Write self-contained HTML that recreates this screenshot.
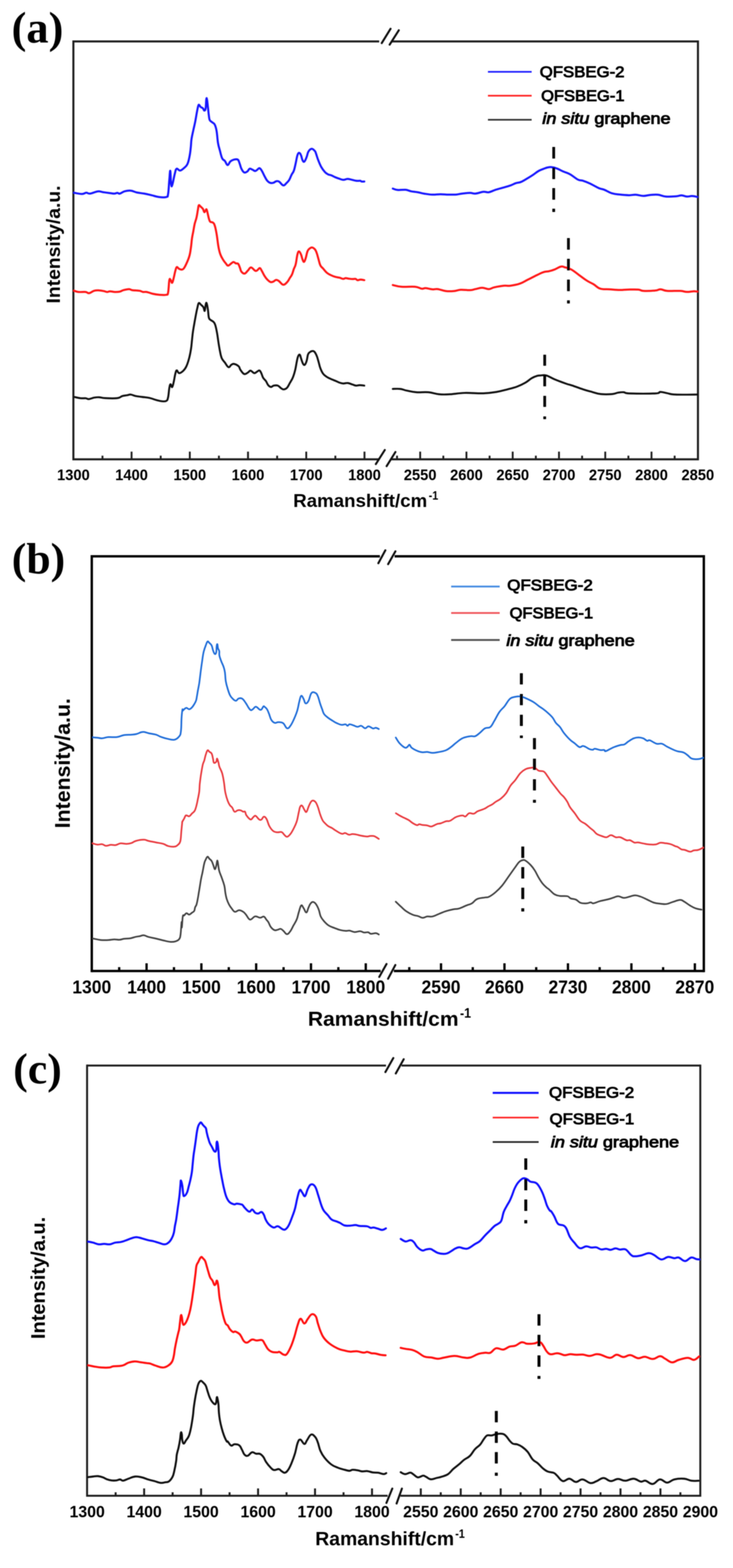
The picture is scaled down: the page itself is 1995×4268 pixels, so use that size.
<!DOCTYPE html>
<html><head><meta charset="utf-8"><title>Raman spectra</title>
<style>html,body{margin:0;padding:0;background:#fff;} svg{display:block;} text{fill:#000;}</style>
</head><body>
<svg width="1995" height="4268" viewBox="0 0 1995 4268">
<defs><filter id="soft" x="0" y="0" width="100%" height="100%" filterUnits="userSpaceOnUse"><feGaussianBlur stdDeviation="0.9"/></filter></defs><rect width="100%" height="100%" fill="#fff"/><g filter="url(#soft)"><text x="31.5" y="115.5" font-family="'Liberation Serif', 'Times New Roman', serif" font-size="121" font-weight="bold" text-anchor="start" >(a)</text>
<line x1="199.7" y1="110.0" x2="199.7" y2="1253.0" stroke="#1c1c1c" stroke-width="5.5" stroke-linecap="butt"/>
<line x1="1899.6" y1="110.0" x2="1899.6" y2="1253.0" stroke="#1c1c1c" stroke-width="5.5" stroke-linecap="butt"/>
<line x1="199.7" y1="112.8" x2="1032.0" y2="112.8" stroke="#1c1c1c" stroke-width="5.5" stroke-linecap="butt"/>
<line x1="1066.0" y1="112.8" x2="1899.6" y2="112.8" stroke="#1c1c1c" stroke-width="5.5" stroke-linecap="butt"/>
<line x1="199.7" y1="1250.3" x2="1030.0" y2="1250.3" stroke="#1c1c1c" stroke-width="5.5" stroke-linecap="butt"/>
<line x1="1065.8" y1="1250.3" x2="1899.6" y2="1250.3" stroke="#1c1c1c" stroke-width="5.5" stroke-linecap="butt"/>
<line x1="1039.0" y1="117.3" x2="1063.0" y2="78.3" stroke="#111" stroke-width="5.5" stroke-linecap="round"/>
<line x1="1060.5" y1="121.5" x2="1085.4" y2="82.4" stroke="#111" stroke-width="5.5" stroke-linecap="round"/>
<line x1="1022.9" y1="1263.3" x2="1047.3" y2="1224.9" stroke="#111" stroke-width="5.5" stroke-linecap="round"/>
<line x1="1052.3" y1="1268.8" x2="1076.2" y2="1230.4" stroke="#111" stroke-width="5.5" stroke-linecap="round"/>
<line x1="278.9" y1="1250.3" x2="278.9" y2="1240.3" stroke="#1c1c1c" stroke-width="5" stroke-linecap="butt"/>
<line x1="358.1" y1="1250.3" x2="358.1" y2="1229.3" stroke="#1c1c1c" stroke-width="5" stroke-linecap="butt"/>
<line x1="437.4" y1="1250.3" x2="437.4" y2="1240.3" stroke="#1c1c1c" stroke-width="5" stroke-linecap="butt"/>
<line x1="516.6" y1="1250.3" x2="516.6" y2="1229.3" stroke="#1c1c1c" stroke-width="5" stroke-linecap="butt"/>
<line x1="595.8" y1="1250.3" x2="595.8" y2="1240.3" stroke="#1c1c1c" stroke-width="5" stroke-linecap="butt"/>
<line x1="675.0" y1="1250.3" x2="675.0" y2="1229.3" stroke="#1c1c1c" stroke-width="5" stroke-linecap="butt"/>
<line x1="754.3" y1="1250.3" x2="754.3" y2="1240.3" stroke="#1c1c1c" stroke-width="5" stroke-linecap="butt"/>
<line x1="833.5" y1="1250.3" x2="833.5" y2="1229.3" stroke="#1c1c1c" stroke-width="5" stroke-linecap="butt"/>
<line x1="912.7" y1="1250.3" x2="912.7" y2="1240.3" stroke="#1c1c1c" stroke-width="5" stroke-linecap="butt"/>
<line x1="992.0" y1="1250.3" x2="992.0" y2="1229.3" stroke="#1c1c1c" stroke-width="5" stroke-linecap="butt"/>
<line x1="1080.6" y1="1250.3" x2="1080.6" y2="1240.3" stroke="#1c1c1c" stroke-width="5" stroke-linecap="butt"/>
<line x1="1143.6" y1="1250.3" x2="1143.6" y2="1229.3" stroke="#1c1c1c" stroke-width="5" stroke-linecap="butt"/>
<line x1="1206.6" y1="1250.3" x2="1206.6" y2="1240.3" stroke="#1c1c1c" stroke-width="5" stroke-linecap="butt"/>
<line x1="1269.5" y1="1250.3" x2="1269.5" y2="1229.3" stroke="#1c1c1c" stroke-width="5" stroke-linecap="butt"/>
<line x1="1332.5" y1="1250.3" x2="1332.5" y2="1240.3" stroke="#1c1c1c" stroke-width="5" stroke-linecap="butt"/>
<line x1="1395.4" y1="1250.3" x2="1395.4" y2="1229.3" stroke="#1c1c1c" stroke-width="5" stroke-linecap="butt"/>
<line x1="1458.4" y1="1250.3" x2="1458.4" y2="1240.3" stroke="#1c1c1c" stroke-width="5" stroke-linecap="butt"/>
<line x1="1521.4" y1="1250.3" x2="1521.4" y2="1229.3" stroke="#1c1c1c" stroke-width="5" stroke-linecap="butt"/>
<line x1="1584.3" y1="1250.3" x2="1584.3" y2="1240.3" stroke="#1c1c1c" stroke-width="5" stroke-linecap="butt"/>
<line x1="1647.3" y1="1250.3" x2="1647.3" y2="1229.3" stroke="#1c1c1c" stroke-width="5" stroke-linecap="butt"/>
<line x1="1710.3" y1="1250.3" x2="1710.3" y2="1240.3" stroke="#1c1c1c" stroke-width="5" stroke-linecap="butt"/>
<line x1="1773.2" y1="1250.3" x2="1773.2" y2="1229.3" stroke="#1c1c1c" stroke-width="5" stroke-linecap="butt"/>
<line x1="1836.2" y1="1250.3" x2="1836.2" y2="1240.3" stroke="#1c1c1c" stroke-width="5" stroke-linecap="butt"/>
<text x="199.7" y="1306.5" font-family="'Liberation Sans', Arial, sans-serif" font-size="42" font-weight="bold" text-anchor="middle" textLength="89.0" lengthAdjust="spacingAndGlyphs" >1300</text>
<text x="358.1" y="1306.5" font-family="'Liberation Sans', Arial, sans-serif" font-size="42" font-weight="bold" text-anchor="middle" textLength="89.0" lengthAdjust="spacingAndGlyphs" >1400</text>
<text x="516.6" y="1306.5" font-family="'Liberation Sans', Arial, sans-serif" font-size="42" font-weight="bold" text-anchor="middle" textLength="89.0" lengthAdjust="spacingAndGlyphs" >1500</text>
<text x="675.0" y="1306.5" font-family="'Liberation Sans', Arial, sans-serif" font-size="42" font-weight="bold" text-anchor="middle" textLength="89.0" lengthAdjust="spacingAndGlyphs" >1600</text>
<text x="833.5" y="1306.5" font-family="'Liberation Sans', Arial, sans-serif" font-size="42" font-weight="bold" text-anchor="middle" textLength="89.0" lengthAdjust="spacingAndGlyphs" >1700</text>
<text x="992.0" y="1306.5" font-family="'Liberation Sans', Arial, sans-serif" font-size="42" font-weight="bold" text-anchor="middle" textLength="89.0" lengthAdjust="spacingAndGlyphs" >1800</text>
<text x="1143.6" y="1306.5" font-family="'Liberation Sans', Arial, sans-serif" font-size="42" font-weight="bold" text-anchor="middle" textLength="89.0" lengthAdjust="spacingAndGlyphs" >2550</text>
<text x="1269.5" y="1306.5" font-family="'Liberation Sans', Arial, sans-serif" font-size="42" font-weight="bold" text-anchor="middle" textLength="89.0" lengthAdjust="spacingAndGlyphs" >2600</text>
<text x="1395.5" y="1306.5" font-family="'Liberation Sans', Arial, sans-serif" font-size="42" font-weight="bold" text-anchor="middle" textLength="89.0" lengthAdjust="spacingAndGlyphs" >2650</text>
<text x="1521.4" y="1306.5" font-family="'Liberation Sans', Arial, sans-serif" font-size="42" font-weight="bold" text-anchor="middle" textLength="89.0" lengthAdjust="spacingAndGlyphs" >2700</text>
<text x="1647.3" y="1306.5" font-family="'Liberation Sans', Arial, sans-serif" font-size="42" font-weight="bold" text-anchor="middle" textLength="89.0" lengthAdjust="spacingAndGlyphs" >2750</text>
<text x="1773.2" y="1306.5" font-family="'Liberation Sans', Arial, sans-serif" font-size="42" font-weight="bold" text-anchor="middle" textLength="89.0" lengthAdjust="spacingAndGlyphs" >2800</text>
<text x="1899.2" y="1306.5" font-family="'Liberation Sans', Arial, sans-serif" font-size="42" font-weight="bold" text-anchor="middle" textLength="89.0" lengthAdjust="spacingAndGlyphs" >2850</text>
<text x="0" y="0" transform="translate(163.0,826.0) rotate(-90)" font-family="'Liberation Sans', Arial, sans-serif" font-size="52" font-weight="bold" text-anchor="start" textLength="321.0" lengthAdjust="spacingAndGlyphs">Intensity/a.u.</text>
<text x="798.0" y="1379.7" font-family="'Liberation Sans', Arial, sans-serif" font-size="50" font-weight="bold" text-anchor="start" textLength="364.7" lengthAdjust="spacingAndGlyphs" >Ramanshift/cm</text>
<text x="1166.7" y="1359.8" font-family="'Liberation Sans', Arial, sans-serif" font-size="33" font-weight="bold" text-anchor="start" textLength="26.0" lengthAdjust="spacingAndGlyphs" >-1</text>
<line x1="1328.0" y1="195.6" x2="1447.0" y2="195.6" stroke="#1a1aff" stroke-width="4.5" stroke-linecap="butt"/>
<line x1="1328.0" y1="260.6" x2="1447.0" y2="260.6" stroke="#ff2020" stroke-width="4.5" stroke-linecap="butt"/>
<line x1="1328.0" y1="326.0" x2="1447.0" y2="326.0" stroke="#333333" stroke-width="4.5" stroke-linecap="butt"/>
<text x="1469.0" y="209.5" font-family="'Liberation Sans', Arial, sans-serif" font-size="43" font-weight="normal" text-anchor="start" textLength="230.7" lengthAdjust="spacingAndGlyphs" stroke="#000" stroke-width="2.1">QFSBEG-2</text>
<text x="1472.7" y="274.8" font-family="'Liberation Sans', Arial, sans-serif" font-size="43" font-weight="normal" text-anchor="start" textLength="227.0" lengthAdjust="spacingAndGlyphs" stroke="#000" stroke-width="2.1">QFSBEG-1</text>
<text x="1476.0" y="336.5" font-family="'Liberation Sans', Arial, sans-serif" font-size="43" text-anchor="start" textLength="349.0" lengthAdjust="spacingAndGlyphs" stroke="#000" stroke-width="2.1"><tspan font-style="italic">in situ</tspan> graphene</text>
<path d="M201.7,524.7 C206.0,525.4 216.3,528.0 223.0,528.0 C229.7,528.0 230.6,524.7 235.0,524.5 C239.4,524.3 238.7,527.7 245.0,527.0 C251.3,526.3 259.4,521.8 266.4,521.0 C273.4,520.2 273.3,522.1 280.0,523.0 C286.7,523.9 293.8,524.9 300.0,525.7 C306.2,526.5 307.1,527.1 311.0,527.0 C314.9,526.9 316.6,525.0 319.6,525.0 C322.6,525.0 322.0,527.9 326.0,527.0 C330.0,526.1 333.5,522.3 339.5,520.7 C345.5,519.1 349.3,518.3 356.0,519.0 C362.7,519.7 365.5,522.4 372.8,524.0 C380.1,525.6 384.7,525.5 392.7,527.0 C400.7,528.5 404.6,529.5 412.6,531.4 C420.6,533.3 424.6,535.3 432.6,536.3 C440.6,537.3 447.5,538.0 452.5,536.3 C457.5,534.6 455.8,537.3 457.5,528.0 C459.2,518.7 459.6,502.4 460.8,489.8 C462.0,477.2 462.5,462.7 463.5,465.0 C464.5,467.3 464.7,493.9 465.8,501.5 C466.9,509.1 467.0,508.7 469.0,503.0 C471.0,497.3 473.4,481.7 475.7,473.0 C478.0,464.3 477.8,461.0 480.7,459.3 C483.6,457.6 486.1,464.6 490.0,464.3 C493.9,464.0 496.0,461.5 500.0,458.0 C504.0,454.5 506.8,453.6 510.0,446.9 C513.2,440.2 514.2,433.9 516.1,424.4 C518.0,414.9 518.4,408.5 519.4,399.5 C520.4,390.5 519.8,388.6 521.1,379.6 C522.4,370.6 524.1,364.2 526.1,354.7 C528.1,345.2 529.1,342.2 531.1,332.2 C533.1,322.2 534.3,313.8 536.0,304.8 C537.7,295.8 538.5,291.2 539.8,287.4 C541.1,283.6 541.1,285.3 542.3,286.0 C543.5,286.7 544.0,289.2 546.0,291.0 C548.0,292.8 550.3,292.9 552.3,294.9 C554.3,296.9 554.5,301.0 556.0,301.0 C557.5,301.0 558.6,301.1 559.7,294.9 C560.8,288.7 560.7,274.7 561.5,270.0 C562.3,265.3 562.6,266.7 563.5,271.2 C564.4,275.7 565.0,283.7 566.0,292.4 C567.0,301.1 567.5,307.8 568.5,314.8 C569.5,321.8 569.0,323.5 571.0,327.2 C573.0,330.9 575.7,331.0 578.4,333.5 C581.1,336.0 582.5,335.0 584.7,339.7 C586.9,344.4 587.9,347.1 589.6,357.1 C591.3,367.1 591.6,379.0 593.4,389.5 C595.2,400.0 596.2,401.3 598.4,409.5 C600.6,417.7 601.9,425.0 604.6,430.7 C607.3,436.4 609.0,434.4 612.0,438.1 C615.0,441.8 616.5,449.0 619.5,449.3 C622.5,449.6 623.5,442.4 627.0,439.4 C630.5,436.4 633.0,435.4 637.0,434.4 C641.0,433.4 644.0,432.4 647.0,434.4 C650.0,436.4 650.0,439.4 652.0,444.4 C654.0,449.4 654.5,454.3 657.0,459.3 C659.5,464.3 661.2,467.8 664.4,469.3 C667.6,470.8 670.1,468.8 673.1,466.8 C676.1,464.8 676.6,460.3 679.3,459.3 C682.0,458.3 683.8,460.6 686.8,461.8 C689.8,463.0 691.7,465.4 694.3,465.5 C696.9,465.6 697.6,463.8 700.0,462.2 C702.4,460.6 703.7,457.2 706.2,457.7 C708.7,458.2 709.7,460.3 712.5,464.7 C715.3,469.1 717.0,474.1 720.0,479.6 C723.0,485.1 724.4,488.5 727.4,492.1 C730.4,495.7 731.7,496.5 734.9,497.6 C738.1,498.7 740.1,498.5 743.6,497.6 C747.1,496.7 749.1,493.9 752.3,493.3 C755.5,492.7 756.1,492.3 759.8,494.6 C763.5,496.9 767.0,503.9 771.0,504.6 C775.0,505.3 776.5,501.3 779.7,498.3 C782.9,495.3 784.5,494.1 787.2,489.6 C789.9,485.1 790.9,480.9 793.4,475.9 C795.9,470.9 797.4,470.9 799.7,464.7 C802.0,458.5 802.7,453.3 804.7,444.8 C806.7,436.3 807.6,428.0 809.6,422.3 C811.6,416.6 812.6,415.8 814.6,416.1 C816.6,416.4 817.9,419.6 819.6,423.6 C821.3,427.6 821.6,432.8 823.3,436.0 C825.0,439.2 826.0,441.5 828.3,439.8 C830.6,438.1 832.4,432.8 834.6,427.3 C836.8,421.8 836.8,416.9 839.5,412.4 C842.2,407.9 844.8,405.2 848.3,404.9 C851.8,404.6 854.5,408.1 857.0,411.1 C859.5,414.1 859.0,415.1 860.7,419.8 C862.4,424.5 863.0,427.8 865.7,434.8 C868.4,441.8 870.7,448.0 874.4,454.7 C878.1,461.4 880.7,464.4 884.4,468.4 C888.1,472.4 889.6,472.9 893.1,474.7 C896.6,476.5 898.1,475.7 901.8,477.2 C905.5,478.7 907.8,480.4 911.8,482.1 C915.8,483.8 917.3,484.4 921.8,485.9 C926.3,487.4 929.5,489.4 934.2,489.6 C938.9,489.8 941.0,487.2 945.5,487.1 C950.0,487.0 952.0,488.1 956.7,489.1 C961.4,490.1 964.4,491.5 969.1,492.1 C973.8,492.7 977.3,491.7 980.3,492.1 C983.3,492.5 981.8,493.7 984.0,494.1 C986.2,494.5 990.0,494.1 991.5,494.1" fill="none" stroke="#1212ff" stroke-width="5.5" stroke-linejoin="round" stroke-linecap="round"/>
<path d="M1069.1,513.3 C1071.7,514.0 1074.9,516.3 1081.9,517.0 C1088.9,517.7 1096.6,515.9 1103.9,516.6 C1111.2,517.3 1111.9,519.3 1118.5,520.6 C1125.1,521.9 1129.5,521.9 1136.8,523.2 C1144.1,524.5 1147.0,525.9 1155.0,527.2 C1163.0,528.5 1168.2,529.5 1177.0,529.8 C1185.8,530.1 1190.1,528.7 1198.9,528.7 C1207.7,528.7 1212.0,529.7 1220.8,529.8 C1229.6,529.9 1235.4,530.0 1242.7,529.4 C1250.0,528.8 1250.1,527.8 1257.4,526.9 C1264.7,526.0 1272.0,525.0 1279.3,525.0 C1286.6,525.0 1286.6,527.5 1293.9,526.9 C1301.2,526.3 1308.5,522.8 1315.8,522.1 C1323.1,521.4 1323.9,524.3 1330.5,523.2 C1337.1,522.1 1340.7,519.2 1348.7,516.6 C1356.7,514.0 1362.6,512.7 1370.7,510.4 C1378.8,508.1 1382.4,507.2 1389.0,504.9 C1395.6,502.6 1397.8,500.7 1403.6,498.7 C1409.4,496.7 1411.6,497.9 1418.2,495.1 C1424.8,492.3 1429.9,488.7 1436.5,484.8 C1443.1,480.9 1445.3,479.6 1451.1,475.7 C1456.9,471.8 1459.9,468.8 1465.7,465.5 C1471.5,462.2 1475.3,461.2 1480.3,459.2 C1485.3,457.2 1486.5,456.5 1490.7,455.7 C1494.9,454.9 1496.4,454.4 1501.4,455.0 C1506.4,455.6 1509.3,456.2 1515.7,458.6 C1522.1,461.0 1526.5,464.0 1533.6,467.1 C1540.7,470.2 1543.5,469.9 1551.4,474.3 C1559.3,478.7 1565.8,485.3 1572.9,488.9 C1580.0,492.5 1580.7,490.0 1587.1,492.1 C1593.5,494.2 1596.4,495.3 1605.0,499.3 C1613.6,503.3 1622.1,508.7 1630.0,512.1 C1637.9,515.5 1637.2,513.6 1644.3,516.4 C1651.4,519.2 1657.1,523.5 1665.7,526.1 C1674.3,528.7 1677.8,528.5 1687.1,529.6 C1696.4,530.7 1703.5,531.3 1712.1,531.4 C1720.7,531.5 1722.1,529.6 1730.0,530.0 C1737.9,530.4 1743.5,533.1 1751.4,533.2 C1759.3,533.3 1761.4,531.3 1769.3,530.7 C1777.2,530.1 1782.1,529.1 1790.7,530.0 C1799.3,530.9 1802.1,534.1 1812.1,535.0 C1822.1,535.9 1832.1,534.9 1840.7,534.3 C1849.3,533.7 1849.3,531.7 1855.0,531.8 C1860.7,531.9 1863.6,534.6 1869.3,535.0 C1875.0,535.4 1877.9,533.4 1883.6,533.6 C1889.3,533.8 1895.0,535.6 1897.9,536.1" fill="none" stroke="#1212ff" stroke-width="5.5" stroke-linejoin="round" stroke-linecap="round"/>
<path d="M201.7,791.4 C204.0,792.1 207.0,794.0 213.3,794.7 C219.6,795.4 227.4,794.0 233.2,794.7 C239.0,795.4 237.8,798.7 242.5,798.0 C247.2,797.3 251.0,792.9 256.5,791.4 C262.0,789.9 264.5,790.2 269.8,790.4 C275.1,790.6 278.7,791.5 283.0,792.4 C287.3,793.3 288.1,794.6 291.4,794.7 C294.7,794.8 295.4,793.0 299.7,793.0 C304.0,793.0 307.7,794.6 313.0,794.7 C318.3,794.8 321.6,794.7 326.2,793.7 C330.8,792.7 331.2,791.0 336.2,789.7 C341.2,788.4 346.5,787.0 351.2,787.0 C355.9,787.0 353.9,788.8 359.5,789.7 C365.1,790.6 373.4,790.4 379.4,791.4 C385.4,792.4 385.4,794.0 389.4,794.7 C393.4,795.4 394.0,793.7 399.3,794.7 C404.6,795.7 409.3,798.2 416.0,799.7 C422.7,801.2 425.3,801.8 432.6,802.3 C439.9,802.8 447.5,803.5 452.5,802.3 C457.5,801.1 455.8,804.1 457.5,796.3 C459.2,788.5 459.5,770.1 460.8,763.1 C462.1,756.1 462.6,760.2 464.1,761.5 C465.6,762.8 466.7,770.5 468.4,769.8 C470.1,769.1 470.6,764.8 472.4,758.1 C474.2,751.4 475.6,742.7 477.4,736.5 C479.2,730.3 479.2,727.8 481.2,726.9 C483.2,726.0 484.7,730.4 487.5,731.8 C490.3,733.2 492.3,734.3 495.0,733.8 C497.7,733.3 498.2,733.7 501.2,729.3 C504.2,724.9 506.9,718.9 509.9,711.9 C512.9,704.9 514.1,702.5 516.1,694.5 C518.1,686.5 518.6,681.0 519.9,672.0 C521.2,663.0 521.2,658.1 522.4,649.6 C523.6,641.1 524.6,637.7 526.1,629.7 C527.6,621.7 528.1,617.2 529.8,609.7 C531.5,602.2 533.0,600.0 534.8,592.3 C536.6,584.6 537.3,577.8 538.6,571.1 C539.9,564.4 539.6,560.4 541.1,558.7 C542.6,557.0 543.8,560.4 546.0,562.4 C548.2,564.4 550.3,565.6 552.3,568.6 C554.3,571.6 554.5,576.5 556.0,577.3 C557.5,578.1 558.5,573.9 559.7,572.4 C560.9,570.9 561.2,568.7 562.2,569.9 C563.2,571.1 563.4,573.6 564.7,578.6 C566.0,583.6 567.0,589.8 568.5,594.8 C570.0,599.8 570.0,601.3 572.2,603.5 C574.4,605.7 577.2,603.8 579.7,606.0 C582.2,608.2 582.7,608.5 584.7,614.7 C586.7,620.9 587.6,625.7 589.6,637.2 C591.6,648.7 592.6,661.0 594.6,672.0 C596.6,683.0 597.1,685.0 599.6,692.0 C602.1,699.0 604.1,701.9 607.1,706.9 C610.1,711.9 611.9,713.7 614.6,716.9 C617.3,720.1 617.8,723.1 620.8,723.1 C623.8,723.1 626.5,718.9 629.5,716.9 C632.5,714.9 633.2,713.2 635.7,713.2 C638.2,713.2 639.5,715.9 642.0,716.9 C644.5,717.9 646.0,715.6 648.2,718.1 C650.4,720.6 651.5,725.1 653.2,729.3 C654.9,733.5 654.4,736.2 656.9,739.3 C659.4,742.4 662.1,745.3 665.6,744.8 C669.1,744.3 670.9,740.1 674.4,736.8 C677.9,733.5 679.1,728.1 683.1,728.1 C687.1,728.1 690.9,735.2 694.3,736.8 C697.7,738.4 697.5,737.3 700.0,735.9 C702.5,734.5 704.5,729.4 707.0,729.7 C709.5,730.0 709.9,733.0 712.5,737.2 C715.1,741.4 716.9,746.2 719.9,750.9 C722.9,755.6 724.2,757.6 727.4,760.9 C730.6,764.2 732.9,766.5 736.1,767.6 C739.3,768.7 740.6,767.7 743.6,766.6 C746.6,765.5 748.1,762.5 751.1,762.1 C754.1,761.7 754.6,762.0 758.6,764.6 C762.6,767.2 766.3,774.6 771.0,775.1 C775.7,775.6 778.7,770.7 782.2,767.1 C785.7,763.5 786.0,761.1 788.5,757.1 C791.0,753.1 792.5,752.2 794.7,747.2 C796.9,742.2 797.7,737.7 799.7,732.2 C801.7,726.7 802.7,727.7 804.7,719.7 C806.7,711.7 807.7,699.4 809.6,692.3 C811.5,685.2 812.1,684.1 814.1,684.4 C816.1,684.7 817.8,689.3 819.6,693.6 C821.4,697.9 821.7,702.2 823.3,706.0 C824.9,709.8 825.8,713.5 827.6,712.8 C829.4,712.1 830.2,708.1 832.1,702.3 C834.0,696.5 834.9,688.8 837.1,683.6 C839.3,678.4 840.8,678.1 843.3,676.1 C845.8,674.1 846.8,673.1 849.5,673.6 C852.2,674.1 854.5,675.6 857.0,678.6 C859.5,681.6 860.0,683.1 862.0,688.6 C864.0,694.1 865.0,699.3 867.0,706.0 C869.0,712.7 869.4,717.2 871.9,722.2 C874.4,727.2 875.9,727.0 879.4,731.0 C882.9,735.0 885.4,738.7 889.4,742.2 C893.4,745.7 894.8,746.2 899.3,748.4 C903.8,750.6 906.8,751.9 911.8,753.4 C916.8,754.9 919.8,754.8 924.3,755.9 C928.8,757.0 931.0,758.9 934.2,759.1 C937.4,759.3 937.5,757.2 940.5,757.1 C943.5,757.0 945.5,757.9 949.2,758.4 C952.9,758.9 955.5,759.5 959.2,759.6 C962.9,759.7 965.2,758.5 967.9,759.1 C970.6,759.7 970.2,762.2 972.9,762.6 C975.6,763.0 977.9,760.9 981.6,760.9 C985.3,760.9 989.5,762.3 991.5,762.6" fill="none" stroke="#ff1212" stroke-width="5.5" stroke-linejoin="round" stroke-linecap="round"/>
<path d="M1069.1,775.9 C1073.9,776.8 1080.8,779.7 1092.9,780.6 C1105.0,781.5 1118.4,779.6 1129.4,780.6 C1140.4,781.6 1141.8,785.1 1147.7,785.8 C1153.6,786.5 1152.8,783.9 1158.7,784.3 C1164.6,784.7 1170.4,787.1 1177.0,787.6 C1183.6,788.1 1184.3,786.0 1191.6,786.9 C1198.9,787.8 1204.7,791.2 1213.5,792.3 C1222.3,793.4 1227.4,793.0 1235.4,792.3 C1243.4,791.6 1244.9,789.2 1253.7,788.7 C1262.5,788.2 1271.3,790.2 1279.3,789.8 C1287.3,789.4 1287.3,788.2 1293.9,786.9 C1300.5,785.6 1304.9,783.2 1312.2,783.2 C1319.5,783.2 1323.9,787.1 1330.5,786.9 C1337.1,786.7 1337.1,783.9 1345.1,782.1 C1353.1,780.3 1361.9,778.6 1370.7,777.7 C1379.5,776.8 1380.2,778.8 1389.0,777.7 C1397.8,776.6 1405.0,775.5 1414.5,772.2 C1424.0,768.9 1427.0,766.0 1436.5,761.3 C1446.0,756.6 1453.2,752.7 1462.0,748.5 C1470.8,744.3 1473.8,742.5 1480.3,740.4 C1486.8,738.3 1488.6,739.5 1494.3,738.2 C1500.0,736.9 1502.2,736.4 1508.6,733.9 C1515.0,731.4 1520.7,727.0 1526.4,725.7 C1532.1,724.4 1531.4,725.9 1537.1,727.5 C1542.8,729.1 1547.1,729.3 1555.0,733.6 C1562.9,737.9 1567.8,742.8 1576.4,748.9 C1585.0,755.0 1590.0,759.3 1597.9,764.3 C1605.8,769.3 1608.6,769.6 1615.7,773.9 C1622.8,778.2 1625.0,783.0 1633.6,785.7 C1642.2,788.4 1647.9,786.8 1658.6,787.5 C1669.3,788.2 1677.1,789.2 1687.1,789.3 C1697.1,789.4 1698.6,788.4 1708.6,788.2 C1718.6,788.0 1728.5,787.5 1737.1,788.2 C1745.7,788.9 1742.1,791.3 1751.4,791.8 C1760.7,792.3 1774.3,791.6 1783.6,790.7 C1792.9,789.8 1791.5,787.3 1797.9,787.5 C1804.3,787.7 1805.0,790.9 1815.7,791.8 C1826.4,792.7 1840.7,791.2 1851.4,791.8 C1862.1,792.4 1862.2,794.4 1869.3,794.6 C1876.4,794.8 1881.4,793.1 1887.1,792.9 C1892.8,792.7 1895.7,793.5 1897.9,793.6" fill="none" stroke="#ff1212" stroke-width="5.5" stroke-linejoin="round" stroke-linecap="round"/>
<path d="M203.3,1080.7 C206.6,1081.4 213.9,1083.3 219.9,1084.0 C225.9,1084.7 228.9,1083.5 233.2,1084.0 C237.5,1084.5 236.8,1086.6 241.5,1086.3 C246.2,1086.0 250.8,1083.3 256.5,1082.3 C262.2,1081.3 263.8,1081.0 269.8,1081.3 C275.8,1081.6 276.4,1083.2 286.4,1083.7 C296.4,1084.2 310.3,1084.8 319.6,1083.7 C328.9,1082.6 327.6,1079.6 332.9,1078.0 C338.2,1076.4 341.6,1076.5 346.2,1075.7 C350.8,1074.9 351.5,1073.5 356.1,1074.0 C360.7,1074.5 363.4,1076.7 369.4,1078.0 C375.4,1079.3 378.7,1079.3 386.0,1080.3 C393.3,1081.3 398.0,1081.3 406.0,1083.0 C414.0,1084.7 419.3,1087.2 425.9,1089.0 C432.5,1090.8 433.9,1091.5 439.2,1092.0 C444.5,1092.5 448.8,1093.4 452.5,1091.3 C456.2,1089.2 455.8,1088.3 457.5,1081.3 C459.2,1074.3 459.5,1063.5 460.8,1056.4 C462.1,1049.3 462.6,1046.3 464.1,1045.8 C465.6,1045.3 466.7,1054.7 468.4,1053.8 C470.1,1052.9 470.6,1049.0 472.4,1041.5 C474.2,1034.0 475.6,1023.2 477.4,1016.5 C479.2,1009.8 479.2,1008.3 481.2,1008.1 C483.2,1007.9 484.0,1015.4 487.5,1015.6 C491.0,1015.8 494.7,1013.0 498.7,1009.3 C502.7,1005.6 504.2,1003.9 507.4,996.9 C510.6,989.9 512.4,983.9 514.9,974.4 C517.4,964.9 518.4,959.0 519.9,949.5 C521.4,940.0 521.4,936.1 522.4,927.1 C523.4,918.1 523.7,913.7 524.9,904.7 C526.1,895.7 526.9,892.2 528.6,882.2 C530.3,872.2 531.9,863.8 533.6,854.8 C535.3,845.8 535.8,843.4 537.3,837.4 C538.8,831.4 539.1,826.4 541.1,824.9 C543.1,823.4 544.8,827.7 547.3,829.9 C549.8,832.1 551.5,832.9 553.5,836.1 C555.5,839.3 555.9,847.8 557.2,846.1 C558.5,844.4 559.1,831.4 560.2,827.4 C561.3,823.4 561.5,823.0 562.7,826.2 C563.9,829.4 564.8,835.9 566.0,843.6 C567.2,851.3 567.0,859.3 568.5,864.8 C570.0,870.3 570.9,868.8 573.4,871.0 C575.9,873.2 578.4,873.3 580.9,876.0 C583.4,878.7 583.9,878.5 585.9,884.7 C587.9,890.9 589.2,897.7 590.9,907.2 C592.6,916.7 593.1,922.6 594.6,932.1 C596.1,941.6 596.7,946.0 598.4,954.5 C600.1,963.0 600.6,967.9 603.3,974.4 C606.0,980.9 608.4,981.9 612.1,986.9 C615.8,991.9 618.5,998.2 622.0,999.4 C625.5,1000.6 626.5,994.9 629.5,993.1 C632.5,991.3 633.0,989.8 637.0,990.6 C641.0,991.4 645.9,993.7 649.4,996.9 C652.9,1000.1 651.4,1002.6 654.4,1006.8 C657.4,1011.0 660.4,1016.5 664.4,1018.0 C668.4,1019.5 670.9,1016.1 674.4,1014.3 C677.9,1012.5 678.3,1008.5 681.8,1008.8 C685.3,1009.1 688.3,1015.0 691.8,1015.6 C695.3,1016.2 696.4,1013.2 699.3,1011.8 C702.2,1010.4 703.8,1007.7 706.2,1008.5 C708.6,1009.3 709.2,1011.9 711.2,1015.9 C713.2,1019.9 713.7,1024.2 716.2,1028.4 C718.7,1032.6 721.0,1033.1 723.7,1037.1 C726.4,1041.1 727.2,1045.1 729.9,1048.3 C732.6,1051.5 734.4,1053.0 737.4,1053.3 C740.4,1053.6 741.2,1050.3 744.9,1049.6 C748.6,1048.9 752.1,1048.2 756.1,1049.6 C760.1,1051.0 761.6,1054.5 764.8,1056.6 C768.0,1058.7 769.1,1060.2 772.3,1060.0 C775.5,1059.8 777.8,1059.1 781.0,1055.8 C784.2,1052.5 785.3,1049.0 788.5,1043.3 C791.7,1037.6 794.2,1034.4 797.2,1027.2 C800.2,1020.0 801.4,1015.2 803.4,1007.2 C805.4,999.2 805.7,994.5 807.2,987.3 C808.7,980.1 809.2,975.5 810.9,971.1 C812.6,966.7 814.2,964.4 815.9,965.4 C817.6,966.4 817.9,971.2 819.6,976.1 C821.3,981.0 822.6,986.5 824.6,989.8 C826.6,993.1 827.6,994.3 829.6,992.8 C831.6,991.3 832.9,987.9 834.6,982.3 C836.3,976.7 836.6,969.6 838.3,964.9 C840.0,960.2 841.1,960.5 843.3,958.6 C845.5,956.7 847.0,955.8 849.5,955.6 C852.0,955.4 853.2,954.8 855.7,957.4 C858.2,960.0 859.7,963.1 862.0,968.6 C864.3,974.1 865.0,978.1 867.0,984.8 C869.0,991.5 869.4,995.7 871.9,1002.2 C874.4,1008.7 875.9,1012.5 879.4,1017.2 C882.9,1021.9 884.9,1022.9 889.4,1025.9 C893.9,1028.9 896.8,1029.9 901.8,1032.1 C906.8,1034.3 909.8,1035.2 914.3,1037.1 C918.8,1039.0 920.3,1040.3 924.3,1041.6 C928.3,1042.9 929.7,1043.6 934.2,1043.8 C938.7,1044.0 941.7,1042.0 946.7,1042.6 C951.7,1043.2 954.7,1045.2 959.2,1046.6 C963.7,1048.0 965.1,1049.3 969.1,1049.6 C973.1,1049.9 974.6,1048.3 979.1,1048.3 C983.6,1048.3 989.0,1049.3 991.5,1049.6" fill="none" stroke="#0a0a0a" stroke-width="5.2" stroke-linejoin="round" stroke-linecap="round"/>
<path d="M1069.1,1058.6 C1073.1,1058.6 1081.5,1057.7 1089.2,1058.6 C1096.9,1059.5 1098.7,1061.5 1107.5,1063.3 C1116.3,1065.1 1121.4,1066.8 1133.1,1067.7 C1144.8,1068.6 1153.6,1066.6 1166.0,1067.7 C1178.4,1068.8 1183.5,1072.1 1195.2,1073.2 C1206.9,1074.3 1210.6,1073.9 1224.5,1073.2 C1238.4,1072.5 1246.4,1070.0 1264.7,1069.5 C1283.0,1069.0 1298.3,1071.2 1315.8,1070.6 C1333.3,1070.0 1339.2,1068.8 1352.4,1066.6 C1365.6,1064.4 1370.6,1062.5 1381.6,1059.7 C1392.6,1056.9 1397.7,1055.9 1407.2,1052.4 C1416.7,1048.9 1421.2,1046.7 1429.2,1042.1 C1437.2,1037.5 1440.8,1033.1 1447.4,1029.3 C1454.0,1025.5 1457.2,1024.6 1462.0,1023.1 C1466.8,1021.6 1466.2,1022.2 1471.2,1022.0 C1476.2,1021.8 1479.0,1019.8 1486.8,1022.0 C1494.6,1024.2 1499.4,1028.4 1510.3,1032.9 C1521.2,1037.4 1532.1,1041.3 1541.5,1044.6 C1550.9,1047.9 1547.7,1046.2 1557.1,1049.3 C1566.5,1052.4 1577.4,1056.7 1588.3,1060.2 C1599.2,1063.7 1602.3,1064.4 1611.7,1066.9 C1621.1,1069.4 1624.3,1071.5 1635.2,1072.7 C1646.1,1073.9 1657.0,1073.5 1666.4,1072.7 C1675.8,1071.9 1675.8,1069.8 1682.0,1068.8 C1688.2,1067.8 1691.4,1067.2 1697.6,1067.6 C1703.8,1068.0 1696.0,1070.2 1713.2,1070.8 C1730.4,1071.4 1766.7,1071.6 1783.5,1070.8 C1800.3,1070.0 1790.9,1067.1 1797.1,1066.9 C1803.3,1066.7 1806.5,1068.6 1814.7,1070.0 C1822.9,1071.4 1821.7,1073.1 1838.1,1073.9 C1854.5,1074.7 1885.0,1073.9 1896.7,1073.9" fill="none" stroke="#0a0a0a" stroke-width="5.2" stroke-linejoin="round" stroke-linecap="round"/>
<line x1="1507.0" y1="400.0" x2="1507.0" y2="577.0" stroke="#000" stroke-width="7.5" stroke-dasharray="31.5 24.5"/>
<line x1="1547.1" y1="648.0" x2="1547.1" y2="826.0" stroke="#000" stroke-width="7.5" stroke-dasharray="31.5 25"/>
<line x1="1482.5" y1="965.4" x2="1482.5" y2="1141.0" stroke="#000" stroke-width="7.5" stroke-dasharray="30 26"/>
<text x="32.0" y="1559.5" font-family="'Liberation Serif', 'Times New Roman', serif" font-size="119" font-weight="bold" text-anchor="start" >(b)</text>
<line x1="249.8" y1="1511.0" x2="249.8" y2="2646.2" stroke="#000000" stroke-width="6.5" stroke-linecap="butt"/>
<line x1="1915.6" y1="1511.0" x2="1915.6" y2="2646.2" stroke="#000000" stroke-width="6.5" stroke-linecap="butt"/>
<line x1="249.8" y1="1514.3" x2="1033.9" y2="1514.3" stroke="#000000" stroke-width="6.5" stroke-linecap="butt"/>
<line x1="1074.0" y1="1514.3" x2="1915.6" y2="1514.3" stroke="#000000" stroke-width="6.5" stroke-linecap="butt"/>
<line x1="249.8" y1="2643.0" x2="1036.0" y2="2643.0" stroke="#000000" stroke-width="6.5" stroke-linecap="butt"/>
<line x1="1072.0" y1="2643.0" x2="1915.6" y2="2643.0" stroke="#000000" stroke-width="6.5" stroke-linecap="butt"/>
<line x1="1029.7" y1="1533.1" x2="1048.8" y2="1497.9" stroke="#111" stroke-width="5.5" stroke-linecap="round"/>
<line x1="1056.3" y1="1535.6" x2="1076.2" y2="1500.7" stroke="#111" stroke-width="5.5" stroke-linecap="round"/>
<line x1="1032.2" y1="2659.2" x2="1052.0" y2="2623.9" stroke="#111" stroke-width="5.5" stroke-linecap="round"/>
<line x1="1056.2" y1="2664.0" x2="1076.0" y2="2626.7" stroke="#111" stroke-width="5.5" stroke-linecap="round"/>
<line x1="324.4" y1="2643.0" x2="324.4" y2="2632.5" stroke="#000000" stroke-width="6.3" stroke-linecap="butt"/>
<line x1="398.9" y1="2643.0" x2="398.9" y2="2622.0" stroke="#000000" stroke-width="6.3" stroke-linecap="butt"/>
<line x1="473.5" y1="2643.0" x2="473.5" y2="2632.5" stroke="#000000" stroke-width="6.3" stroke-linecap="butt"/>
<line x1="548.1" y1="2643.0" x2="548.1" y2="2622.0" stroke="#000000" stroke-width="6.3" stroke-linecap="butt"/>
<line x1="622.7" y1="2643.0" x2="622.7" y2="2632.5" stroke="#000000" stroke-width="6.3" stroke-linecap="butt"/>
<line x1="697.2" y1="2643.0" x2="697.2" y2="2622.0" stroke="#000000" stroke-width="6.3" stroke-linecap="butt"/>
<line x1="771.8" y1="2643.0" x2="771.8" y2="2632.5" stroke="#000000" stroke-width="6.3" stroke-linecap="butt"/>
<line x1="846.4" y1="2643.0" x2="846.4" y2="2622.0" stroke="#000000" stroke-width="6.3" stroke-linecap="butt"/>
<line x1="920.9" y1="2643.0" x2="920.9" y2="2632.5" stroke="#000000" stroke-width="6.3" stroke-linecap="butt"/>
<line x1="995.5" y1="2643.0" x2="995.5" y2="2622.0" stroke="#000000" stroke-width="6.3" stroke-linecap="butt"/>
<line x1="1113.9" y1="2643.0" x2="1113.9" y2="2632.5" stroke="#000000" stroke-width="6.3" stroke-linecap="butt"/>
<line x1="1200.3" y1="2643.0" x2="1200.3" y2="2622.0" stroke="#000000" stroke-width="6.3" stroke-linecap="butt"/>
<line x1="1286.7" y1="2643.0" x2="1286.7" y2="2632.5" stroke="#000000" stroke-width="6.3" stroke-linecap="butt"/>
<line x1="1373.0" y1="2643.0" x2="1373.0" y2="2622.0" stroke="#000000" stroke-width="6.3" stroke-linecap="butt"/>
<line x1="1459.4" y1="2643.0" x2="1459.4" y2="2632.5" stroke="#000000" stroke-width="6.3" stroke-linecap="butt"/>
<line x1="1545.8" y1="2643.0" x2="1545.8" y2="2622.0" stroke="#000000" stroke-width="6.3" stroke-linecap="butt"/>
<line x1="1632.1" y1="2643.0" x2="1632.1" y2="2632.5" stroke="#000000" stroke-width="6.3" stroke-linecap="butt"/>
<line x1="1718.5" y1="2643.0" x2="1718.5" y2="2622.0" stroke="#000000" stroke-width="6.3" stroke-linecap="butt"/>
<line x1="1804.8" y1="2643.0" x2="1804.8" y2="2632.5" stroke="#000000" stroke-width="6.3" stroke-linecap="butt"/>
<line x1="1891.2" y1="2643.0" x2="1891.2" y2="2622.0" stroke="#000000" stroke-width="6.3" stroke-linecap="butt"/>
<text x="249.8" y="2704.0" font-family="'Liberation Sans', Arial, sans-serif" font-size="50" font-weight="bold" text-anchor="middle" textLength="106.0" lengthAdjust="spacingAndGlyphs" >1300</text>
<text x="398.9" y="2704.0" font-family="'Liberation Sans', Arial, sans-serif" font-size="50" font-weight="bold" text-anchor="middle" textLength="106.0" lengthAdjust="spacingAndGlyphs" >1400</text>
<text x="548.1" y="2704.0" font-family="'Liberation Sans', Arial, sans-serif" font-size="50" font-weight="bold" text-anchor="middle" textLength="106.0" lengthAdjust="spacingAndGlyphs" >1500</text>
<text x="697.2" y="2704.0" font-family="'Liberation Sans', Arial, sans-serif" font-size="50" font-weight="bold" text-anchor="middle" textLength="106.0" lengthAdjust="spacingAndGlyphs" >1600</text>
<text x="846.4" y="2704.0" font-family="'Liberation Sans', Arial, sans-serif" font-size="50" font-weight="bold" text-anchor="middle" textLength="106.0" lengthAdjust="spacingAndGlyphs" >1700</text>
<text x="995.5" y="2704.0" font-family="'Liberation Sans', Arial, sans-serif" font-size="50" font-weight="bold" text-anchor="middle" textLength="106.0" lengthAdjust="spacingAndGlyphs" >1800</text>
<text x="1200.3" y="2704.0" font-family="'Liberation Sans', Arial, sans-serif" font-size="50" font-weight="bold" text-anchor="middle" textLength="106.0" lengthAdjust="spacingAndGlyphs" >2590</text>
<text x="1373.0" y="2704.0" font-family="'Liberation Sans', Arial, sans-serif" font-size="50" font-weight="bold" text-anchor="middle" textLength="106.0" lengthAdjust="spacingAndGlyphs" >2660</text>
<text x="1545.7" y="2704.0" font-family="'Liberation Sans', Arial, sans-serif" font-size="50" font-weight="bold" text-anchor="middle" textLength="106.0" lengthAdjust="spacingAndGlyphs" >2730</text>
<text x="1718.4" y="2704.0" font-family="'Liberation Sans', Arial, sans-serif" font-size="50" font-weight="bold" text-anchor="middle" textLength="106.0" lengthAdjust="spacingAndGlyphs" >2800</text>
<text x="1891.1" y="2704.0" font-family="'Liberation Sans', Arial, sans-serif" font-size="50" font-weight="bold" text-anchor="middle" textLength="106.0" lengthAdjust="spacingAndGlyphs" >2870</text>
<text x="0" y="0" transform="translate(189.5,2254.7) rotate(-90)" font-family="'Liberation Sans', Arial, sans-serif" font-size="57" font-weight="bold" text-anchor="start" textLength="354.4" lengthAdjust="spacingAndGlyphs">Intensity/a.u.</text>
<text x="838.0" y="2792.0" font-family="'Liberation Sans', Arial, sans-serif" font-size="56" font-weight="bold" text-anchor="start" textLength="410.0" lengthAdjust="spacingAndGlyphs" >Ramanshift/cm</text>
<text x="1252.0" y="2770.0" font-family="'Liberation Sans', Arial, sans-serif" font-size="37" font-weight="bold" text-anchor="start" textLength="30.0" lengthAdjust="spacingAndGlyphs" >-1</text>
<line x1="1227.9" y1="1596.5" x2="1360.0" y2="1596.5" stroke="#4a8ee2" stroke-width="5" stroke-linecap="butt"/>
<line x1="1227.9" y1="1668.6" x2="1360.0" y2="1668.6" stroke="#f05a5e" stroke-width="5" stroke-linecap="butt"/>
<line x1="1227.9" y1="1742.1" x2="1360.0" y2="1742.1" stroke="#505050" stroke-width="5" stroke-linecap="butt"/>
<text x="1380.6" y="1606.7" font-family="'Liberation Sans', Arial, sans-serif" font-size="42" font-weight="normal" text-anchor="start" textLength="232.7" lengthAdjust="spacingAndGlyphs" stroke="#000" stroke-width="2.1">QFSBEG-2</text>
<text x="1386.9" y="1682.8" font-family="'Liberation Sans', Arial, sans-serif" font-size="42" font-weight="normal" text-anchor="start" textLength="227.4" lengthAdjust="spacingAndGlyphs" stroke="#000" stroke-width="2.1">QFSBEG-1</text>
<text x="1378.2" y="1757.5" font-family="'Liberation Sans', Arial, sans-serif" font-size="42" text-anchor="start" textLength="349.3" lengthAdjust="spacingAndGlyphs" stroke="#000" stroke-width="2.1"><tspan font-style="italic">in situ</tspan> graphene</text>
<path d="M253.3,2007.0 C255.6,2007.2 260.0,2007.5 265.0,2008.0 C270.0,2008.5 272.2,2009.9 278.2,2009.6 C284.2,2009.3 286.8,2007.0 294.8,2006.3 C302.8,2005.6 309.5,2007.4 318.1,2006.3 C326.7,2005.2 330.0,2002.0 338.0,2000.7 C346.0,1999.4 351.4,2000.2 358.0,1999.7 C364.6,1999.2 365.9,1999.3 371.2,1998.0 C376.5,1996.7 380.2,1994.1 384.5,1993.0 C388.8,1991.9 388.8,1991.9 392.8,1992.4 C396.8,1992.9 398.2,1994.2 404.5,1995.7 C410.8,1997.2 417.8,1997.7 424.4,1999.7 C431.0,2001.7 431.7,2003.4 437.7,2005.6 C443.7,2007.8 447.0,2009.0 454.3,2010.6 C461.6,2012.2 467.6,2014.8 474.2,2013.6 C480.8,2012.4 483.8,2009.5 487.5,2004.7 C491.2,1999.9 491.2,2000.0 492.5,1989.7 C493.8,1979.4 493.4,1964.8 494.2,1953.2 C495.0,1941.6 495.8,1935.4 496.5,1931.6 C497.2,1927.8 496.6,1934.5 497.5,1934.3 C498.4,1934.1 499.2,1932.1 501.2,1930.6 C503.2,1929.1 504.7,1926.8 507.4,1926.8 C510.1,1926.8 511.9,1930.8 514.9,1930.6 C517.9,1930.4 519.7,1928.3 522.4,1925.6 C525.1,1922.9 526.4,1920.6 528.6,1916.9 C530.8,1913.2 532.1,1911.4 533.6,1906.9 C535.1,1902.4 535.1,1899.9 536.1,1894.4 C537.1,1888.9 537.4,1886.5 538.6,1879.5 C539.8,1872.5 541.1,1867.5 542.3,1859.5 C543.5,1851.5 543.8,1847.6 544.8,1839.6 C545.8,1831.6 546.3,1827.2 547.3,1819.7 C548.3,1812.2 548.8,1809.2 549.8,1802.2 C550.8,1795.2 551.3,1790.8 552.3,1784.8 C553.3,1778.8 553.3,1777.8 554.8,1772.3 C556.3,1766.8 557.8,1762.6 559.8,1757.4 C561.8,1752.2 562.8,1747.7 564.8,1746.2 C566.8,1744.7 567.5,1747.8 569.7,1749.9 C571.9,1752.0 574.0,1752.9 576.0,1756.9 C578.0,1760.9 578.1,1765.2 579.7,1769.8 C581.3,1774.4 582.5,1778.5 584.2,1779.8 C585.9,1781.1 587.3,1780.3 588.4,1776.1 C589.5,1771.9 589.0,1763.1 589.7,1758.6 C590.4,1754.1 591.0,1752.3 591.7,1753.6 C592.4,1754.9 592.4,1761.2 593.4,1764.9 C594.4,1768.6 595.9,1768.3 596.7,1772.3 C597.5,1776.3 596.1,1779.3 597.2,1784.8 C598.3,1790.3 599.9,1793.7 602.1,1799.7 C604.3,1805.7 606.4,1808.7 608.4,1814.7 C610.4,1820.7 610.9,1821.6 612.1,1829.6 C613.3,1837.6 613.1,1845.6 614.6,1854.6 C616.1,1863.6 617.4,1867.0 619.6,1874.5 C621.8,1882.0 623.1,1886.4 625.8,1891.9 C628.5,1897.4 630.1,1898.8 633.3,1901.9 C636.5,1905.0 638.8,1907.5 642.0,1907.4 C645.2,1907.3 646.0,1902.5 649.5,1901.4 C653.0,1900.3 655.4,1899.3 659.4,1901.9 C663.4,1904.5 665.9,1909.4 669.4,1914.4 C672.9,1919.4 674.2,1923.1 676.9,1926.8 C679.6,1930.5 680.6,1932.6 683.1,1933.1 C685.6,1933.6 686.7,1931.2 689.4,1929.3 C692.1,1927.4 692.8,1923.2 696.8,1923.8 C700.8,1924.4 705.3,1932.4 709.3,1932.3 C713.3,1932.2 714.7,1924.8 716.8,1923.1 C718.9,1921.4 718.0,1922.3 720.0,1923.8 C722.0,1925.3 724.2,1926.7 726.6,1930.4 C729.0,1934.1 729.6,1936.5 732.0,1942.4 C734.4,1948.3 735.4,1954.7 738.6,1959.7 C741.8,1964.7 744.2,1966.4 747.9,1967.6 C751.6,1968.8 752.7,1965.6 757.2,1965.8 C761.7,1966.0 765.7,1965.1 770.5,1968.4 C775.3,1971.7 777.1,1980.9 781.1,1982.3 C785.1,1983.7 786.7,1980.4 790.4,1975.6 C794.1,1970.8 796.0,1966.5 799.7,1958.3 C803.4,1950.1 806.1,1944.0 809.0,1934.4 C811.9,1924.8 812.3,1918.6 814.4,1910.5 C816.5,1902.4 817.3,1895.6 819.7,1894.0 C822.1,1892.4 823.9,1898.4 826.3,1902.5 C828.7,1906.6 828.9,1913.4 831.6,1914.5 C834.3,1915.6 836.4,1913.4 839.6,1907.8 C842.8,1902.2 843.9,1891.0 847.6,1886.6 C851.3,1882.2 854.7,1884.4 858.2,1886.0 C861.7,1887.6 862.2,1888.6 864.9,1894.6 C867.6,1900.6 869.1,1908.6 871.5,1915.8 C873.9,1923.0 874.7,1924.8 876.8,1930.4 C878.9,1936.0 878.9,1939.1 882.1,1943.7 C885.3,1948.3 888.0,1949.9 892.8,1953.6 C897.6,1957.3 901.2,1959.3 906.0,1962.3 C910.8,1965.3 911.9,1966.3 916.7,1968.4 C921.5,1970.5 925.2,1972.4 930.0,1973.0 C934.8,1973.6 937.4,1971.1 940.6,1971.6 C943.8,1972.1 943.8,1975.6 945.9,1975.6 C948.0,1975.6 948.0,1971.9 951.2,1971.6 C954.4,1971.3 957.6,1973.0 961.9,1974.3 C966.2,1975.6 968.3,1978.0 972.5,1978.3 C976.7,1978.6 978.8,1974.8 983.1,1975.6 C987.4,1976.4 989.8,1982.0 993.8,1982.3 C997.8,1982.6 998.9,1976.8 1003.1,1976.9 C1007.3,1977.0 1011.0,1982.0 1015.0,1982.8 C1019.0,1983.6 1019.8,1980.6 1023.0,1980.9 C1026.2,1981.2 1029.4,1983.7 1031.0,1984.4" fill="none" stroke="#1a6ad8" stroke-width="4.5" stroke-linejoin="round" stroke-linecap="round"/>
<path d="M1077.1,2007.5 C1079.3,2010.7 1082.9,2018.1 1087.9,2023.6 C1092.9,2029.1 1097.8,2033.2 1102.1,2035.0 C1106.4,2036.8 1106.8,2034.1 1109.3,2032.5 C1111.8,2030.9 1112.5,2026.6 1114.6,2027.1 C1116.7,2027.6 1116.1,2031.8 1120.0,2035.0 C1123.9,2038.2 1128.6,2040.7 1134.3,2043.2 C1140.0,2045.7 1142.9,2046.8 1148.6,2047.5 C1154.3,2048.2 1157.2,2046.4 1162.9,2046.8 C1168.6,2047.2 1171.4,2049.2 1177.1,2049.3 C1182.8,2049.4 1184.2,2048.9 1191.4,2047.5 C1198.6,2046.1 1205.8,2045.3 1212.9,2042.5 C1220.0,2039.7 1221.4,2037.7 1227.1,2033.6 C1232.8,2029.5 1235.0,2026.7 1241.4,2021.8 C1247.8,2016.9 1251.4,2012.9 1259.3,2009.3 C1267.2,2005.7 1273.9,2005.0 1280.7,2003.9 C1287.5,2002.8 1288.2,2005.7 1293.2,2003.9 C1298.2,2002.1 1300.3,1999.3 1305.7,1995.0 C1311.1,1990.7 1314.3,1985.7 1320.0,1982.5 C1325.7,1979.3 1329.3,1982.8 1334.3,1978.9 C1339.3,1975.0 1340.0,1971.1 1345.0,1962.9 C1350.0,1954.7 1353.6,1946.1 1359.3,1937.9 C1365.0,1929.7 1367.9,1929.0 1373.6,1921.8 C1379.3,1914.6 1382.2,1907.1 1387.9,1902.1 C1393.6,1897.1 1396.4,1898.1 1402.1,1896.8 C1407.8,1895.5 1410.7,1895.0 1416.4,1895.7 C1422.1,1896.4 1423.6,1897.3 1430.7,1900.4 C1437.8,1903.5 1445.0,1906.8 1452.1,1911.1 C1459.2,1915.4 1460.8,1917.8 1466.4,1921.8 C1472.0,1925.8 1475.1,1927.5 1480.0,1931.2 C1484.9,1934.9 1486.2,1935.9 1491.0,1940.3 C1495.8,1944.7 1499.4,1947.6 1503.8,1953.1 C1508.2,1958.6 1508.9,1962.6 1512.9,1967.7 C1516.9,1972.8 1519.5,1973.2 1523.9,1978.7 C1528.3,1984.2 1529.3,1988.2 1534.8,1995.1 C1540.3,2002.0 1545.4,2007.8 1551.3,2013.4 C1557.2,2019.0 1559.0,2019.3 1564.1,2023.3 C1569.2,2027.3 1572.5,2032.0 1576.9,2033.5 C1581.3,2035.0 1582.7,2030.7 1586.0,2030.6 C1589.3,2030.5 1589.6,2031.1 1593.3,2032.8 C1597.0,2034.5 1600.3,2037.4 1604.3,2039.0 C1608.3,2040.6 1610.5,2041.0 1613.4,2040.8 C1616.3,2040.6 1614.9,2037.8 1618.9,2037.9 C1622.9,2038.0 1628.4,2040.8 1633.5,2041.5 C1638.6,2042.2 1641.4,2040.9 1644.5,2041.5 C1647.6,2042.1 1643.8,2046.0 1648.9,2044.5 C1654.0,2043.0 1662.2,2037.3 1670.1,2034.0 C1678.0,2030.7 1682.5,2029.6 1688.3,2028.0 C1694.1,2026.4 1694.9,2028.2 1699.3,2026.2 C1703.7,2024.2 1705.2,2021.5 1710.3,2018.2 C1715.4,2014.9 1719.4,2011.9 1724.9,2009.7 C1730.4,2007.5 1732.6,2007.2 1737.7,2007.2 C1742.8,2007.2 1745.8,2007.9 1750.5,2009.7 C1755.2,2011.5 1757.8,2015.2 1761.4,2016.3 C1765.0,2017.4 1763.6,2013.6 1768.7,2015.2 C1773.8,2016.8 1780.4,2022.6 1787.0,2024.4 C1793.6,2026.2 1795.7,2022.7 1801.6,2024.4 C1807.5,2026.1 1809.7,2029.4 1816.3,2032.8 C1822.9,2036.2 1828.7,2039.0 1834.5,2041.5 C1840.3,2044.0 1840.4,2043.9 1845.5,2045.2 C1850.6,2046.5 1855.0,2046.1 1860.1,2048.1 C1865.2,2050.1 1866.7,2052.1 1871.1,2055.4 C1875.5,2058.7 1877.6,2062.4 1882.0,2064.6 C1886.4,2066.8 1888.6,2066.2 1893.0,2066.4 C1897.4,2066.6 1900.0,2066.4 1904.0,2065.7 C1908.0,2065.0 1911.3,2063.3 1913.1,2062.7" fill="none" stroke="#1a6ad8" stroke-width="4.5" stroke-linejoin="round" stroke-linecap="round"/>
<path d="M252.3,2295.6 C254.8,2296.3 259.7,2298.4 264.9,2298.9 C270.1,2299.4 273.5,2297.2 278.2,2297.9 C282.9,2298.6 283.5,2302.0 288.2,2302.3 C292.9,2302.6 296.2,2300.0 301.5,2299.6 C306.8,2299.2 309.5,2301.1 314.8,2300.3 C320.1,2299.5 322.1,2296.3 328.1,2295.6 C334.1,2294.9 338.7,2297.1 344.7,2296.9 C350.7,2296.7 353.0,2296.2 358.0,2294.6 C363.0,2293.0 363.0,2290.8 369.6,2289.0 C376.2,2287.2 384.2,2285.6 391.2,2285.6 C398.2,2285.6 397.9,2287.5 404.5,2289.0 C411.1,2290.5 416.4,2291.4 424.4,2293.0 C432.4,2294.6 437.7,2294.9 444.3,2296.9 C450.9,2298.9 451.6,2301.4 457.6,2302.9 C463.6,2304.4 468.9,2305.3 474.2,2304.6 C479.5,2303.9 480.9,2302.6 484.2,2299.6 C487.5,2296.6 488.9,2296.9 490.8,2289.6 C492.7,2282.3 492.5,2273.1 493.5,2263.1 C494.5,2253.1 495.3,2245.1 495.8,2239.8 C496.3,2234.5 495.1,2239.1 496.2,2236.8 C497.3,2234.5 499.2,2231.6 501.2,2228.1 C503.2,2224.6 503.5,2220.7 506.2,2219.4 C508.9,2218.1 511.7,2222.8 514.9,2221.8 C518.1,2220.8 519.4,2217.4 522.4,2214.4 C525.4,2211.4 527.4,2211.4 529.9,2206.9 C532.4,2202.4 533.2,2198.4 534.9,2191.9 C536.6,2185.4 537.1,2182.0 538.6,2174.5 C540.1,2167.0 541.3,2162.6 542.3,2154.6 C543.3,2146.6 542.8,2142.6 543.6,2134.6 C544.4,2126.6 545.0,2122.7 546.1,2114.7 C547.2,2106.7 548.1,2101.8 549.3,2094.8 C550.5,2087.8 551.0,2084.8 552.3,2079.8 C553.6,2074.8 554.5,2074.8 556.0,2069.8 C557.5,2064.8 558.0,2060.4 559.8,2054.9 C561.6,2049.4 562.8,2044.1 564.8,2042.4 C566.8,2040.7 567.5,2044.5 569.7,2046.2 C571.9,2047.9 574.0,2047.4 576.0,2051.1 C578.0,2054.8 578.5,2059.9 579.7,2064.9 C580.9,2069.9 580.5,2074.4 582.2,2076.1 C583.9,2077.8 586.7,2075.8 588.4,2073.6 C590.1,2071.4 589.6,2064.4 590.9,2064.9 C592.2,2065.4 593.4,2071.6 594.7,2076.1 C596.0,2080.6 595.2,2081.6 597.2,2087.3 C599.2,2093.0 602.1,2096.2 604.6,2104.7 C607.1,2113.2 607.9,2119.1 609.6,2129.6 C611.3,2140.1 611.3,2147.1 613.3,2157.1 C615.3,2167.1 617.1,2172.5 619.6,2179.5 C622.1,2186.5 623.3,2188.2 625.8,2191.9 C628.3,2195.6 629.5,2194.7 632.0,2198.2 C634.5,2201.7 635.3,2207.9 638.3,2209.4 C641.3,2210.9 643.8,2206.4 647.0,2205.6 C650.2,2204.8 651.5,2204.8 654.5,2205.6 C657.5,2206.4 659.4,2208.6 661.9,2209.4 C664.4,2210.2 665.1,2207.4 666.9,2209.4 C668.7,2211.4 667.7,2215.2 670.7,2219.4 C673.7,2223.6 678.2,2229.6 681.9,2230.6 C685.6,2231.6 686.7,2226.3 689.4,2224.3 C692.1,2222.3 692.4,2219.3 695.6,2220.6 C698.8,2221.9 702.3,2228.6 705.5,2230.6 C708.7,2232.6 709.3,2232.1 711.8,2230.6 C714.3,2229.1 715.3,2223.4 718.0,2223.1 C720.7,2222.8 722.2,2223.8 725.3,2229.0 C728.4,2234.2 729.6,2242.3 733.3,2249.0 C737.0,2255.7 739.6,2259.0 743.9,2262.3 C748.2,2265.6 750.1,2264.9 754.6,2265.4 C759.1,2265.9 762.8,2263.7 766.5,2264.9 C770.2,2266.1 770.3,2269.0 773.2,2271.6 C776.1,2274.2 777.7,2278.0 781.1,2277.7 C784.5,2277.4 786.7,2274.9 790.4,2270.2 C794.1,2265.5 796.2,2261.2 799.7,2254.3 C803.2,2247.4 805.0,2244.2 807.7,2235.7 C810.4,2227.2 811.1,2219.8 813.0,2211.8 C814.9,2203.8 815.1,2199.5 817.0,2195.8 C818.9,2192.1 819.9,2191.3 822.3,2193.2 C824.7,2195.1 826.6,2201.8 829.0,2205.1 C831.4,2208.4 831.9,2212.0 834.3,2209.6 C836.7,2207.2 838.0,2199.1 840.9,2193.2 C843.8,2187.3 845.4,2182.0 848.9,2179.9 C852.4,2177.8 855.0,2179.3 858.2,2182.5 C861.4,2185.7 862.2,2188.9 864.9,2195.8 C867.6,2202.7 868.9,2209.7 871.5,2217.1 C874.1,2224.5 875.4,2228.2 878.1,2233.0 C880.8,2237.8 881.9,2237.9 884.8,2241.0 C887.7,2244.1 889.1,2245.8 892.8,2248.4 C896.5,2251.0 899.2,2251.3 903.4,2253.8 C907.6,2256.3 908.7,2257.8 914.0,2260.9 C919.3,2264.0 924.9,2268.1 930.0,2269.4 C935.1,2270.7 935.3,2267.1 939.3,2267.6 C943.3,2268.1 945.9,2271.6 949.9,2272.1 C953.9,2272.6 955.2,2270.3 959.2,2270.2 C963.2,2270.1 965.0,2270.7 969.8,2271.6 C974.6,2272.5 977.2,2273.7 983.1,2274.8 C989.0,2275.9 994.3,2276.8 999.1,2276.9 C1003.9,2277.0 1003.6,2275.8 1007.0,2275.5 C1010.4,2275.2 1013.1,2275.0 1016.3,2275.5 C1019.5,2276.0 1020.1,2276.6 1023.0,2278.2 C1025.9,2279.8 1029.4,2282.4 1031.0,2283.5" fill="none" stroke="#e8383c" stroke-width="4.5" stroke-linejoin="round" stroke-linecap="round"/>
<path d="M1077.5,2213.6 C1079.5,2214.8 1082.9,2217.3 1087.4,2219.8 C1091.9,2222.3 1094.9,2223.6 1099.9,2226.1 C1104.9,2228.6 1107.9,2229.6 1112.4,2232.3 C1116.9,2235.0 1117.8,2237.1 1122.3,2239.8 C1126.8,2242.5 1131.1,2245.3 1134.8,2246.0 C1138.5,2246.7 1138.0,2243.6 1141.0,2243.5 C1144.0,2243.4 1145.5,2244.8 1149.7,2245.5 C1153.9,2246.2 1157.7,2246.0 1162.2,2246.8 C1166.7,2247.6 1168.7,2249.5 1172.2,2249.7 C1175.7,2249.9 1176.1,2249.1 1179.6,2247.7 C1183.1,2246.3 1185.6,2244.1 1189.6,2242.8 C1193.6,2241.5 1194.6,2242.5 1199.6,2241.0 C1204.6,2239.5 1209.5,2236.6 1214.5,2235.3 C1219.5,2234.0 1219.5,2236.4 1224.5,2234.3 C1229.5,2232.2 1234.4,2227.4 1239.4,2224.8 C1244.4,2222.2 1245.4,2222.1 1249.4,2221.1 C1253.4,2220.1 1255.9,2219.6 1259.4,2219.8 C1262.9,2220.0 1263.4,2223.5 1266.9,2222.3 C1270.4,2221.1 1272.3,2215.1 1276.8,2213.6 C1281.3,2212.1 1284.8,2215.9 1289.3,2214.9 C1293.8,2213.9 1295.3,2210.6 1299.3,2208.6 C1303.3,2206.6 1305.2,2206.4 1309.2,2204.9 C1313.2,2203.4 1315.2,2203.1 1319.2,2201.1 C1323.2,2199.1 1325.2,2197.1 1329.2,2194.9 C1333.2,2192.7 1335.1,2192.4 1339.1,2189.9 C1343.1,2187.4 1344.3,2185.7 1349.1,2182.5 C1353.9,2179.3 1357.3,2178.5 1362.9,2173.9 C1368.5,2169.3 1371.8,2166.7 1377.1,2159.6 C1382.4,2152.5 1384.6,2145.3 1389.6,2138.2 C1394.6,2131.1 1396.7,2130.7 1402.1,2123.9 C1407.5,2117.1 1410.7,2110.4 1416.4,2104.3 C1422.1,2098.2 1425.0,2096.5 1430.7,2093.6 C1436.4,2090.7 1440.0,2090.7 1445.0,2090.0 C1450.0,2089.3 1451.4,2088.4 1455.7,2090.0 C1460.0,2091.6 1461.5,2095.9 1466.4,2097.9 C1471.3,2099.9 1475.5,2097.5 1480.0,2100.1 C1484.5,2102.7 1485.1,2105.6 1489.1,2111.1 C1493.1,2116.6 1495.3,2120.9 1500.1,2127.5 C1504.9,2134.1 1507.8,2137.4 1512.9,2144.0 C1518.0,2150.6 1521.3,2155.3 1525.7,2160.4 C1530.1,2165.5 1531.1,2165.1 1534.8,2169.5 C1538.5,2173.9 1540.7,2176.8 1544.0,2182.3 C1547.3,2187.8 1547.3,2190.8 1551.3,2197.0 C1555.3,2203.2 1558.6,2206.1 1564.1,2213.4 C1569.6,2220.7 1572.9,2227.7 1578.7,2233.5 C1584.5,2239.3 1587.8,2238.6 1593.3,2242.6 C1598.8,2246.6 1601.7,2249.9 1606.1,2253.6 C1610.5,2257.3 1611.5,2257.6 1615.2,2260.9 C1618.9,2264.2 1620.0,2267.2 1624.4,2270.1 C1628.8,2273.0 1631.9,2273.7 1637.2,2275.5 C1642.5,2277.3 1645.7,2279.5 1650.8,2279.0 C1655.9,2278.5 1657.8,2273.2 1662.9,2273.2 C1668.0,2273.2 1671.0,2277.8 1676.1,2279.0 C1681.2,2280.2 1682.4,2277.4 1688.2,2279.0 C1694.0,2280.6 1699.7,2285.4 1705.0,2287.0 C1710.3,2288.6 1710.4,2285.7 1714.7,2287.0 C1719.0,2288.3 1722.4,2292.3 1726.7,2293.5 C1731.0,2294.7 1731.5,2292.5 1736.3,2293.0 C1741.1,2293.5 1745.0,2294.8 1750.8,2295.9 C1756.6,2297.0 1758.5,2297.8 1765.2,2298.3 C1771.9,2298.8 1778.2,2299.4 1784.5,2298.5 C1790.8,2297.6 1791.8,2294.7 1796.6,2294.0 C1801.4,2293.3 1802.8,2294.1 1808.6,2294.9 C1814.4,2295.7 1819.7,2296.2 1825.5,2297.8 C1831.3,2299.4 1833.7,2301.6 1837.5,2303.1 C1841.3,2304.6 1841.3,2303.8 1844.7,2305.5 C1848.1,2307.2 1850.5,2310.2 1854.4,2311.8 C1858.3,2313.4 1859.2,2312.2 1864.0,2313.5 C1868.8,2314.8 1873.6,2318.1 1878.4,2318.3 C1883.2,2318.5 1883.8,2315.7 1888.1,2314.7 C1892.4,2313.7 1895.0,2315.0 1900.1,2313.5 C1905.2,2312.0 1910.7,2308.6 1913.4,2307.4" fill="none" stroke="#e8383c" stroke-width="4.5" stroke-linejoin="round" stroke-linecap="round"/>
<path d="M253.3,2554.7 C257.6,2555.5 266.6,2557.9 274.9,2558.7 C283.2,2559.5 287.5,2559.0 294.8,2558.7 C302.1,2558.4 305.4,2557.1 311.4,2557.0 C317.4,2556.9 319.4,2558.3 324.7,2558.0 C330.0,2557.7 332.0,2556.1 338.0,2555.3 C344.0,2554.5 348.6,2555.0 354.6,2554.0 C360.6,2553.0 362.6,2551.6 367.9,2550.4 C373.2,2549.2 376.5,2548.9 381.2,2548.0 C385.9,2547.1 386.5,2545.2 391.2,2545.7 C395.9,2546.2 397.9,2548.6 404.5,2550.4 C411.1,2552.2 416.4,2552.8 424.4,2554.7 C432.4,2556.6 436.3,2557.9 444.3,2559.7 C452.3,2561.5 457.6,2563.2 464.3,2563.7 C471.0,2564.2 473.0,2563.8 477.6,2562.3 C482.2,2560.8 484.7,2560.1 487.5,2556.3 C490.3,2552.5 490.2,2552.4 491.5,2543.1 C492.8,2533.8 493.5,2513.6 494.2,2509.8 C494.9,2506.0 494.3,2527.4 495.0,2524.3 C495.7,2521.2 496.3,2500.9 497.5,2494.4 C498.7,2487.9 499.2,2493.6 501.2,2491.9 C503.2,2490.2 504.7,2486.2 507.4,2485.7 C510.1,2485.2 511.9,2489.7 514.9,2489.4 C517.9,2489.1 519.7,2486.4 522.4,2484.4 C525.1,2482.4 526.9,2482.5 528.6,2479.5 C530.3,2476.5 529.8,2473.0 531.1,2469.5 C532.4,2466.0 533.4,2467.0 534.9,2462.0 C536.4,2457.0 537.4,2451.1 538.6,2444.6 C539.8,2438.1 540.1,2435.6 541.1,2429.6 C542.1,2423.6 542.4,2422.2 543.6,2414.7 C544.8,2407.2 545.8,2400.2 547.3,2392.2 C548.8,2384.2 549.4,2383.3 551.1,2374.8 C552.8,2366.3 554.3,2356.9 556.0,2349.9 C557.7,2342.9 558.0,2343.5 559.8,2339.9 C561.6,2336.3 562.8,2332.4 564.8,2331.9 C566.8,2331.4 567.5,2335.1 569.7,2337.4 C571.9,2339.7 573.7,2339.9 576.0,2343.6 C578.3,2347.3 579.3,2351.6 581.0,2356.1 C582.7,2360.6 583.2,2365.9 584.7,2366.1 C586.2,2366.3 587.0,2362.0 588.4,2357.3 C589.8,2352.6 590.4,2341.9 591.7,2342.4 C593.0,2342.9 593.6,2353.8 594.7,2359.8 C595.8,2365.8 595.2,2365.8 597.2,2372.3 C599.2,2378.8 601.9,2384.2 604.6,2392.2 C607.3,2400.2 609.2,2404.7 610.9,2412.2 C612.6,2419.7 612.1,2422.6 613.3,2429.6 C614.5,2436.6 615.1,2440.6 617.1,2447.1 C619.1,2453.6 620.6,2456.8 623.3,2462.0 C626.0,2467.2 627.6,2469.2 630.8,2473.2 C634.0,2477.2 635.5,2481.0 639.5,2481.9 C643.5,2482.8 646.2,2477.5 650.7,2477.5 C655.2,2477.5 658.2,2479.5 661.9,2481.9 C665.6,2484.3 665.7,2485.2 669.4,2489.4 C673.1,2493.6 675.6,2502.1 680.6,2503.1 C685.6,2504.1 688.8,2495.4 694.3,2494.4 C699.8,2493.4 703.3,2498.0 708.0,2498.1 C712.7,2498.2 714.5,2493.8 718.0,2494.9 C721.5,2496.0 722.8,2500.6 725.3,2503.7 C727.8,2506.8 728.2,2506.4 730.6,2510.4 C733.0,2514.4 734.1,2519.5 737.3,2523.7 C740.5,2527.9 743.1,2530.1 746.6,2531.6 C750.1,2533.1 751.1,2531.7 754.6,2531.1 C758.1,2530.5 760.5,2527.8 763.9,2528.4 C767.3,2529.0 768.4,2531.4 771.8,2534.3 C775.2,2537.2 777.4,2542.8 781.1,2542.8 C784.8,2542.8 786.9,2538.9 790.4,2534.3 C793.9,2529.7 794.9,2526.1 798.4,2519.7 C801.9,2513.3 804.8,2509.6 807.7,2502.4 C810.6,2495.2 810.6,2491.3 813.0,2483.8 C815.4,2476.3 817.0,2467.1 819.7,2464.7 C822.4,2462.3 823.5,2468.0 826.3,2471.8 C829.1,2475.6 831.1,2484.1 833.8,2483.8 C836.5,2483.5 837.4,2475.3 839.6,2470.5 C841.8,2465.7 842.5,2463.0 844.9,2459.9 C847.3,2456.8 848.7,2455.0 851.6,2455.1 C854.5,2455.2 856.3,2456.3 859.5,2460.4 C862.7,2464.5 864.8,2469.0 867.5,2475.8 C870.2,2482.6 869.9,2488.0 872.8,2494.4 C875.7,2500.8 877.6,2502.6 882.1,2507.7 C886.6,2512.8 889.5,2516.0 895.4,2519.7 C901.3,2523.4 905.5,2524.0 911.4,2526.3 C917.3,2528.6 918.9,2529.6 924.7,2531.1 C930.5,2532.6 935.3,2533.4 940.6,2533.8 C945.9,2534.2 946.4,2532.4 951.2,2533.0 C956.0,2533.6 958.6,2536.5 964.5,2536.9 C970.4,2537.3 975.2,2534.5 980.5,2534.8 C985.8,2535.1 986.9,2537.8 991.1,2538.3 C995.3,2538.8 998.0,2536.8 1001.7,2537.5 C1005.4,2538.2 1005.4,2541.2 1009.7,2541.7 C1014.0,2542.2 1018.7,2539.7 1023.0,2540.1 C1027.3,2540.5 1029.4,2542.9 1031.0,2543.6" fill="none" stroke="#404040" stroke-width="4.5" stroke-linejoin="round" stroke-linecap="round"/>
<path d="M1077.1,2454.3 C1080.0,2457.0 1085.7,2462.7 1091.4,2467.9 C1097.1,2473.1 1099.3,2476.0 1105.7,2480.4 C1112.1,2484.8 1117.2,2487.4 1123.6,2490.0 C1130.0,2492.6 1132.5,2492.0 1137.9,2493.6 C1143.3,2495.2 1145.4,2498.0 1150.4,2498.2 C1155.4,2498.4 1157.6,2495.3 1162.9,2494.6 C1168.2,2493.9 1170.7,2496.0 1177.1,2494.6 C1183.5,2493.2 1187.8,2490.3 1195.0,2487.5 C1202.2,2484.7 1205.0,2482.9 1212.9,2480.4 C1220.8,2477.9 1227.2,2476.4 1234.3,2475.0 C1241.4,2473.6 1241.5,2475.3 1248.6,2473.2 C1255.7,2471.1 1262.9,2467.2 1270.0,2464.3 C1277.1,2461.4 1278.6,2462.3 1284.3,2458.9 C1290.0,2455.5 1291.5,2450.3 1298.6,2447.1 C1305.7,2443.9 1313.6,2444.1 1320.0,2442.9 C1326.4,2441.7 1325.0,2444.0 1330.7,2441.1 C1336.4,2438.2 1341.5,2434.7 1348.6,2428.6 C1355.7,2422.5 1359.3,2419.3 1366.4,2410.7 C1373.5,2402.1 1377.2,2395.7 1384.3,2385.7 C1391.4,2375.7 1396.4,2368.6 1402.1,2360.7 C1407.8,2352.8 1408.8,2350.3 1412.9,2346.4 C1417.0,2342.5 1419.2,2342.0 1422.8,2341.3 C1426.4,2340.6 1426.3,2340.1 1430.7,2342.9 C1435.1,2345.7 1440.0,2350.1 1445.0,2355.4 C1450.0,2360.7 1451.4,2362.8 1455.7,2369.6 C1460.0,2376.4 1462.1,2382.1 1466.4,2389.3 C1470.7,2396.5 1472.8,2400.0 1477.1,2405.4 C1481.4,2410.8 1484.4,2413.0 1487.9,2416.1 C1491.4,2419.2 1490.3,2417.5 1494.6,2421.1 C1498.9,2424.7 1503.3,2430.8 1509.2,2434.3 C1515.1,2437.8 1516.9,2437.7 1523.9,2438.7 C1530.9,2439.7 1538.2,2438.1 1544.0,2439.4 C1549.8,2440.7 1548.4,2443.4 1553.1,2445.3 C1557.8,2447.2 1562.2,2446.4 1567.7,2448.9 C1573.2,2451.4 1574.6,2455.7 1580.5,2457.7 C1586.4,2459.7 1591.5,2459.1 1597.0,2458.8 C1602.5,2458.5 1604.3,2456.2 1607.9,2456.2 C1611.5,2456.2 1610.1,2459.5 1615.2,2458.8 C1620.3,2458.1 1625.5,2454.8 1633.5,2452.6 C1641.5,2450.4 1648.1,2449.7 1655.4,2447.8 C1662.7,2445.9 1664.6,2444.8 1670.1,2443.1 C1675.6,2441.4 1677.4,2439.2 1682.9,2439.4 C1688.4,2439.6 1691.3,2443.8 1697.5,2444.0 C1703.7,2444.2 1707.7,2441.9 1713.9,2440.5 C1720.1,2439.1 1722.6,2436.9 1728.5,2436.9 C1734.4,2436.9 1736.6,2438.2 1743.2,2440.5 C1749.8,2442.8 1754.1,2445.3 1761.4,2448.6 C1768.7,2451.9 1772.4,2454.7 1779.7,2457.0 C1787.0,2459.3 1791.1,2459.2 1798.0,2459.9 C1804.9,2460.6 1807.8,2461.6 1814.4,2460.6 C1821.0,2459.6 1823.6,2457.3 1830.9,2455.1 C1838.2,2452.9 1844.8,2449.8 1851.0,2449.6 C1857.2,2449.4 1856.4,2450.9 1861.9,2454.0 C1867.4,2457.1 1872.2,2461.3 1878.4,2465.0 C1884.6,2468.7 1886.8,2470.1 1893.0,2472.3 C1899.2,2474.5 1906.2,2475.3 1909.5,2476.0" fill="none" stroke="#404040" stroke-width="4.5" stroke-linejoin="round" stroke-linecap="round"/>
<line x1="1419.0" y1="1832.6" x2="1419.0" y2="2009.0" stroke="#000" stroke-width="8" stroke-dasharray="30.5 26"/>
<line x1="1454.6" y1="2009.0" x2="1454.6" y2="2185.0" stroke="#000" stroke-width="8" stroke-dasharray="30.5 25.5"/>
<line x1="1422.8" y1="2304.3" x2="1422.8" y2="2481.0" stroke="#000" stroke-width="8" stroke-dasharray="31 25"/>
<text x="36.1" y="2948.5" font-family="'Liberation Serif', 'Times New Roman', serif" font-size="119" font-weight="bold" text-anchor="start" >(c)</text>
<line x1="237.0" y1="2897.7" x2="237.0" y2="4074.1" stroke="#1c1c1c" stroke-width="5.3" stroke-linecap="butt"/>
<line x1="1906.0" y1="2897.7" x2="1906.0" y2="4074.1" stroke="#1c1c1c" stroke-width="5.3" stroke-linecap="butt"/>
<line x1="237.0" y1="2900.3" x2="1050.6" y2="2900.3" stroke="#1c1c1c" stroke-width="5.3" stroke-linecap="butt"/>
<line x1="1093.0" y1="2900.3" x2="1906.0" y2="2900.3" stroke="#1c1c1c" stroke-width="5.3" stroke-linecap="butt"/>
<line x1="237.0" y1="4071.4" x2="1055.0" y2="4071.4" stroke="#1c1c1c" stroke-width="5.3" stroke-linecap="butt"/>
<line x1="1090.0" y1="4071.4" x2="1906.0" y2="4071.4" stroke="#1c1c1c" stroke-width="5.3" stroke-linecap="butt"/>
<line x1="1048.9" y1="2918.1" x2="1070.5" y2="2879.9" stroke="#111" stroke-width="5.5" stroke-linecap="round"/>
<line x1="1077.2" y1="2921.8" x2="1098.8" y2="2883.2" stroke="#111" stroke-width="5.5" stroke-linecap="round"/>
<line x1="1051.7" y1="4091.0" x2="1067.7" y2="4051.8" stroke="#111" stroke-width="5.5" stroke-linecap="round"/>
<line x1="1079.4" y1="4092.5" x2="1093.9" y2="4051.8" stroke="#111" stroke-width="5.5" stroke-linecap="round"/>
<line x1="314.7" y1="4071.4" x2="314.7" y2="4061.9" stroke="#1c1c1c" stroke-width="5.3" stroke-linecap="butt"/>
<line x1="392.3" y1="4071.4" x2="392.3" y2="4051.4" stroke="#1c1c1c" stroke-width="5.3" stroke-linecap="butt"/>
<line x1="469.8" y1="4071.4" x2="469.8" y2="4061.9" stroke="#1c1c1c" stroke-width="5.3" stroke-linecap="butt"/>
<line x1="547.3" y1="4071.4" x2="547.3" y2="4051.4" stroke="#1c1c1c" stroke-width="5.3" stroke-linecap="butt"/>
<line x1="624.8" y1="4071.4" x2="624.8" y2="4061.9" stroke="#1c1c1c" stroke-width="5.3" stroke-linecap="butt"/>
<line x1="702.4" y1="4071.4" x2="702.4" y2="4051.4" stroke="#1c1c1c" stroke-width="5.3" stroke-linecap="butt"/>
<line x1="779.9" y1="4071.4" x2="779.9" y2="4061.9" stroke="#1c1c1c" stroke-width="5.3" stroke-linecap="butt"/>
<line x1="857.4" y1="4071.4" x2="857.4" y2="4051.4" stroke="#1c1c1c" stroke-width="5.3" stroke-linecap="butt"/>
<line x1="935.0" y1="4071.4" x2="935.0" y2="4061.9" stroke="#1c1c1c" stroke-width="5.3" stroke-linecap="butt"/>
<line x1="1012.5" y1="4071.4" x2="1012.5" y2="4051.4" stroke="#1c1c1c" stroke-width="5.3" stroke-linecap="butt"/>
<line x1="1145.3" y1="4071.4" x2="1145.3" y2="4051.4" stroke="#1c1c1c" stroke-width="5.3" stroke-linecap="butt"/>
<line x1="1199.6" y1="4071.4" x2="1199.6" y2="4061.9" stroke="#1c1c1c" stroke-width="5.3" stroke-linecap="butt"/>
<line x1="1254.0" y1="4071.4" x2="1254.0" y2="4051.4" stroke="#1c1c1c" stroke-width="5.3" stroke-linecap="butt"/>
<line x1="1308.3" y1="4071.4" x2="1308.3" y2="4061.9" stroke="#1c1c1c" stroke-width="5.3" stroke-linecap="butt"/>
<line x1="1362.7" y1="4071.4" x2="1362.7" y2="4051.4" stroke="#1c1c1c" stroke-width="5.3" stroke-linecap="butt"/>
<line x1="1417.0" y1="4071.4" x2="1417.0" y2="4061.9" stroke="#1c1c1c" stroke-width="5.3" stroke-linecap="butt"/>
<line x1="1471.4" y1="4071.4" x2="1471.4" y2="4051.4" stroke="#1c1c1c" stroke-width="5.3" stroke-linecap="butt"/>
<line x1="1525.8" y1="4071.4" x2="1525.8" y2="4061.9" stroke="#1c1c1c" stroke-width="5.3" stroke-linecap="butt"/>
<line x1="1580.1" y1="4071.4" x2="1580.1" y2="4051.4" stroke="#1c1c1c" stroke-width="5.3" stroke-linecap="butt"/>
<line x1="1634.4" y1="4071.4" x2="1634.4" y2="4061.9" stroke="#1c1c1c" stroke-width="5.3" stroke-linecap="butt"/>
<line x1="1688.8" y1="4071.4" x2="1688.8" y2="4051.4" stroke="#1c1c1c" stroke-width="5.3" stroke-linecap="butt"/>
<line x1="1743.2" y1="4071.4" x2="1743.2" y2="4061.9" stroke="#1c1c1c" stroke-width="5.3" stroke-linecap="butt"/>
<line x1="1797.5" y1="4071.4" x2="1797.5" y2="4051.4" stroke="#1c1c1c" stroke-width="5.3" stroke-linecap="butt"/>
<line x1="1851.8" y1="4071.4" x2="1851.8" y2="4061.9" stroke="#1c1c1c" stroke-width="5.3" stroke-linecap="butt"/>
<text x="237.2" y="4130.0" font-family="'Liberation Sans', Arial, sans-serif" font-size="44" font-weight="bold" text-anchor="middle" textLength="96.0" lengthAdjust="spacingAndGlyphs" >1300</text>
<text x="392.3" y="4130.0" font-family="'Liberation Sans', Arial, sans-serif" font-size="44" font-weight="bold" text-anchor="middle" textLength="96.0" lengthAdjust="spacingAndGlyphs" >1400</text>
<text x="547.3" y="4130.0" font-family="'Liberation Sans', Arial, sans-serif" font-size="44" font-weight="bold" text-anchor="middle" textLength="96.0" lengthAdjust="spacingAndGlyphs" >1500</text>
<text x="702.4" y="4130.0" font-family="'Liberation Sans', Arial, sans-serif" font-size="44" font-weight="bold" text-anchor="middle" textLength="96.0" lengthAdjust="spacingAndGlyphs" >1600</text>
<text x="857.4" y="4130.0" font-family="'Liberation Sans', Arial, sans-serif" font-size="44" font-weight="bold" text-anchor="middle" textLength="96.0" lengthAdjust="spacingAndGlyphs" >1700</text>
<text x="1012.5" y="4130.0" font-family="'Liberation Sans', Arial, sans-serif" font-size="44" font-weight="bold" text-anchor="middle" textLength="96.0" lengthAdjust="spacingAndGlyphs" >1800</text>
<text x="1145.3" y="4130.0" font-family="'Liberation Sans', Arial, sans-serif" font-size="44" font-weight="bold" text-anchor="middle" textLength="96.0" lengthAdjust="spacingAndGlyphs" >2550</text>
<text x="1254.0" y="4130.0" font-family="'Liberation Sans', Arial, sans-serif" font-size="44" font-weight="bold" text-anchor="middle" textLength="96.0" lengthAdjust="spacingAndGlyphs" >2600</text>
<text x="1362.7" y="4130.0" font-family="'Liberation Sans', Arial, sans-serif" font-size="44" font-weight="bold" text-anchor="middle" textLength="96.0" lengthAdjust="spacingAndGlyphs" >2650</text>
<text x="1471.4" y="4130.0" font-family="'Liberation Sans', Arial, sans-serif" font-size="44" font-weight="bold" text-anchor="middle" textLength="96.0" lengthAdjust="spacingAndGlyphs" >2700</text>
<text x="1580.1" y="4130.0" font-family="'Liberation Sans', Arial, sans-serif" font-size="44" font-weight="bold" text-anchor="middle" textLength="96.0" lengthAdjust="spacingAndGlyphs" >2750</text>
<text x="1688.8" y="4130.0" font-family="'Liberation Sans', Arial, sans-serif" font-size="44" font-weight="bold" text-anchor="middle" textLength="96.0" lengthAdjust="spacingAndGlyphs" >2800</text>
<text x="1797.5" y="4130.0" font-family="'Liberation Sans', Arial, sans-serif" font-size="44" font-weight="bold" text-anchor="middle" textLength="96.0" lengthAdjust="spacingAndGlyphs" >2850</text>
<text x="1906.2" y="4130.0" font-family="'Liberation Sans', Arial, sans-serif" font-size="44" font-weight="bold" text-anchor="middle" textLength="96.0" lengthAdjust="spacingAndGlyphs" >2900</text>
<text x="0" y="0" transform="translate(121.5,3645.0) rotate(-90)" font-family="'Liberation Sans', Arial, sans-serif" font-size="53.5" font-weight="bold" text-anchor="start" textLength="333.0" lengthAdjust="spacingAndGlyphs">Intensity/a.u.</text>
<text x="858.0" y="4205.8" font-family="'Liberation Sans', Arial, sans-serif" font-size="51" font-weight="bold" text-anchor="start" textLength="378.0" lengthAdjust="spacingAndGlyphs" >Ramanshift/cm</text>
<text x="1239.0" y="4186.0" font-family="'Liberation Sans', Arial, sans-serif" font-size="34" font-weight="bold" text-anchor="start" textLength="26.0" lengthAdjust="spacingAndGlyphs" >-1</text>
<line x1="1341.0" y1="2974.7" x2="1466.0" y2="2974.7" stroke="#1010ff" stroke-width="5.5" stroke-linecap="butt"/>
<line x1="1341.0" y1="3042.0" x2="1466.0" y2="3042.0" stroke="#ff2020" stroke-width="4.5" stroke-linecap="butt"/>
<line x1="1341.0" y1="3108.5" x2="1466.0" y2="3108.5" stroke="#222222" stroke-width="4.5" stroke-linecap="butt"/>
<text x="1494.3" y="2988.0" font-family="'Liberation Sans', Arial, sans-serif" font-size="43" font-weight="normal" text-anchor="start" textLength="231.7" lengthAdjust="spacingAndGlyphs" stroke="#000" stroke-width="2.1">QFSBEG-2</text>
<text x="1495.8" y="3060.0" font-family="'Liberation Sans', Arial, sans-serif" font-size="43" font-weight="normal" text-anchor="start" textLength="230.2" lengthAdjust="spacingAndGlyphs" stroke="#000" stroke-width="2.1">QFSBEG-1</text>
<text x="1499.3" y="3122.5" font-family="'Liberation Sans', Arial, sans-serif" font-size="43" text-anchor="start" textLength="348.9" lengthAdjust="spacingAndGlyphs" stroke="#000" stroke-width="2.1"><tspan font-style="italic">in situ</tspan> graphene</text>
<path d="M240.3,3379.7 C243.0,3380.2 247.9,3380.9 253.6,3382.4 C259.3,3383.9 262.6,3386.3 268.6,3387.0 C274.6,3387.7 277.5,3385.7 283.5,3385.7 C289.5,3385.7 292.5,3387.7 298.5,3387.0 C304.5,3386.3 307.1,3383.7 313.4,3382.4 C319.7,3381.1 323.4,3381.9 330.0,3380.4 C336.6,3378.9 340.6,3376.9 346.6,3374.8 C352.6,3372.7 354.9,3371.3 359.9,3369.8 C364.9,3368.3 366.3,3367.2 371.6,3367.4 C376.9,3367.6 380.2,3369.1 386.5,3370.8 C392.8,3372.5 397.1,3374.2 403.1,3375.7 C409.1,3377.2 410.4,3376.6 416.4,3378.1 C422.4,3379.6 426.7,3381.3 433.0,3383.1 C439.3,3384.9 442.7,3387.3 448.0,3387.0 C453.3,3386.7 455.6,3384.8 459.6,3381.4 C463.6,3378.0 465.2,3374.8 467.9,3369.8 C470.6,3364.8 471.2,3363.2 472.9,3356.5 C474.6,3349.8 474.9,3343.8 476.2,3336.5 C477.5,3329.2 478.0,3329.3 479.5,3319.9 C481.0,3310.5 482.4,3298.9 483.7,3289.3 C485.0,3279.7 485.2,3279.3 486.2,3271.8 C487.2,3264.3 487.7,3261.4 488.7,3251.9 C489.7,3242.4 490.4,3232.2 491.1,3224.5 C491.8,3216.8 491.4,3212.8 492.4,3213.3 C493.4,3213.8 494.9,3219.8 496.1,3227.0 C497.3,3234.2 497.6,3243.7 498.6,3249.4 C499.6,3255.1 499.1,3256.1 501.1,3255.6 C503.1,3255.1 506.1,3252.1 508.6,3246.9 C511.1,3241.7 511.6,3237.0 513.6,3229.5 C515.6,3222.0 516.9,3217.5 518.6,3209.5 C520.3,3201.5 521.2,3197.6 522.3,3189.6 C523.4,3181.6 523.4,3178.7 524.3,3169.7 C525.2,3160.7 525.7,3153.8 526.8,3144.8 C527.9,3135.8 528.7,3132.3 529.8,3124.8 C530.9,3117.3 531.3,3114.4 532.3,3107.4 C533.3,3100.4 533.7,3096.5 534.6,3090.0 C535.5,3083.5 536.0,3080.1 537.0,3075.0 C538.0,3069.9 538.6,3067.7 539.8,3064.4 C541.0,3061.1 541.8,3060.3 543.2,3058.4 C544.6,3056.5 545.3,3054.7 546.9,3055.1 C548.5,3055.5 549.2,3058.1 551.1,3060.4 C553.0,3062.7 554.5,3064.3 556.4,3066.4 C558.3,3068.5 559.2,3068.0 560.4,3071.1 C561.6,3074.2 561.6,3077.6 562.6,3082.0 C563.6,3086.4 564.2,3089.2 565.2,3093.0 C566.2,3096.8 566.5,3097.4 567.6,3101.0 C568.7,3104.6 569.0,3106.8 570.9,3111.1 C572.8,3115.4 574.6,3117.8 577.1,3122.3 C579.6,3126.8 581.1,3131.7 583.3,3133.5 C585.5,3135.3 587.0,3135.8 588.3,3131.1 C589.6,3126.4 588.8,3113.9 589.6,3109.9 C590.4,3105.9 591.1,3106.6 592.1,3111.1 C593.1,3115.6 593.9,3124.1 594.6,3132.3 C595.3,3140.5 595.1,3143.7 595.8,3152.2 C596.5,3160.7 597.1,3165.7 598.3,3174.7 C599.5,3183.7 600.5,3188.6 602.0,3197.1 C603.5,3205.6 604.3,3209.5 605.8,3217.0 C607.3,3224.5 607.5,3226.5 609.5,3234.5 C611.5,3242.5 612.7,3249.4 615.7,3256.9 C618.7,3264.4 620.3,3267.6 624.5,3271.8 C628.7,3276.0 632.9,3277.2 636.9,3278.1 C640.9,3279.0 640.7,3276.3 644.4,3276.3 C648.1,3276.3 652.5,3277.4 655.6,3278.1 C658.7,3278.8 657.8,3277.7 660.0,3279.7 C662.2,3281.7 662.9,3284.3 666.6,3288.0 C670.3,3291.7 674.3,3297.1 678.3,3298.0 C682.3,3298.9 683.3,3291.7 686.6,3292.4 C689.9,3293.1 691.6,3299.2 694.9,3301.3 C698.2,3303.4 699.9,3303.5 703.2,3303.0 C706.5,3302.5 708.5,3298.3 711.5,3299.0 C714.5,3299.7 715.8,3302.2 718.1,3306.3 C720.4,3310.4 720.4,3314.4 723.1,3319.6 C725.8,3324.8 727.1,3327.9 731.4,3332.2 C735.7,3336.5 739.7,3340.1 744.7,3341.2 C749.7,3342.3 751.3,3336.9 756.3,3337.9 C761.3,3338.9 765.3,3344.7 769.6,3346.2 C773.9,3347.7 774.6,3347.8 777.9,3345.5 C781.2,3343.2 782.5,3341.8 786.2,3334.6 C789.9,3327.4 792.9,3318.6 796.2,3309.6 C799.5,3300.6 800.2,3299.7 802.9,3289.7 C805.6,3279.7 806.9,3269.9 809.5,3259.8 C812.1,3249.7 813.4,3241.9 816.1,3239.2 C818.8,3236.5 820.0,3243.2 822.8,3246.5 C825.6,3249.8 827.1,3257.8 830.1,3255.8 C833.1,3253.8 834.4,3242.9 837.7,3236.5 C841.0,3230.1 842.7,3225.2 846.7,3223.9 C850.7,3222.6 853.8,3224.0 857.7,3229.9 C861.6,3235.8 862.7,3243.2 866.0,3253.2 C869.3,3263.2 871.3,3271.4 874.3,3279.7 C877.3,3288.0 877.2,3289.0 880.9,3294.7 C884.6,3300.4 888.3,3303.0 892.6,3308.0 C896.9,3313.0 897.9,3316.3 902.5,3319.6 C907.1,3322.9 911.1,3322.7 915.8,3324.6 C920.5,3326.5 921.5,3326.7 925.8,3328.9 C930.1,3331.1 932.1,3334.0 937.4,3335.5 C942.7,3337.0 946.4,3336.4 952.4,3336.2 C958.4,3336.0 962.0,3334.5 967.3,3334.6 C972.6,3334.7 972.6,3336.2 978.9,3336.9 C985.2,3337.6 992.9,3336.8 998.9,3337.9 C1004.9,3339.0 1005.2,3341.5 1008.8,3342.2 C1012.4,3342.9 1013.1,3340.7 1017.1,3341.2 C1021.1,3341.7 1024.1,3343.2 1028.8,3344.5 C1033.5,3345.8 1036.1,3348.0 1040.4,3347.8 C1044.7,3347.6 1048.4,3344.4 1050.4,3343.5" fill="none" stroke="#1010ff" stroke-width="5.5" stroke-linejoin="round" stroke-linecap="round"/>
<path d="M1090.6,3372.3 C1093.3,3373.7 1098.6,3378.5 1103.9,3379.2 C1109.2,3379.9 1112.7,3375.3 1117.2,3375.7 C1121.7,3376.1 1122.8,3377.4 1126.5,3381.1 C1130.2,3384.8 1131.3,3389.9 1135.8,3394.4 C1140.3,3398.9 1144.3,3402.4 1149.1,3403.7 C1153.9,3405.0 1155.2,3401.8 1159.7,3401.0 C1164.2,3400.2 1167.7,3399.2 1171.7,3399.7 C1175.7,3400.2 1175.7,3401.6 1179.7,3403.7 C1183.7,3405.8 1186.0,3408.4 1191.6,3410.3 C1197.2,3412.2 1202.3,3412.8 1207.6,3413.0 C1212.9,3413.2 1214.0,3412.7 1218.2,3411.1 C1222.4,3409.5 1224.5,3407.6 1228.8,3405.0 C1233.1,3402.4 1235.2,3400.3 1239.5,3398.3 C1243.8,3396.3 1245.9,3395.2 1250.1,3395.1 C1254.3,3395.0 1256.4,3397.0 1260.7,3397.8 C1265.0,3398.6 1267.1,3399.7 1271.4,3398.9 C1275.7,3398.1 1277.8,3396.1 1282.0,3393.6 C1286.2,3391.1 1287.8,3389.4 1292.6,3386.4 C1297.4,3383.4 1300.6,3382.9 1305.9,3378.4 C1311.2,3373.9 1313.9,3369.4 1319.2,3363.8 C1324.5,3358.2 1327.2,3355.8 1332.5,3350.5 C1337.8,3345.2 1341.0,3341.2 1345.8,3337.2 C1350.6,3333.2 1352.7,3333.5 1356.4,3330.6 C1360.1,3327.7 1361.5,3328.9 1364.4,3322.6 C1367.3,3316.3 1367.9,3307.3 1370.8,3299.3 C1373.7,3291.3 1375.8,3288.9 1379.1,3282.7 C1382.4,3276.5 1384.5,3274.0 1387.4,3268.2 C1390.3,3262.4 1391.1,3259.9 1393.6,3253.7 C1396.1,3247.5 1397.3,3242.8 1399.8,3237.0 C1402.3,3231.2 1403.6,3228.7 1406.1,3224.6 C1408.6,3220.5 1409.4,3219.4 1412.3,3216.3 C1415.2,3213.2 1417.7,3210.9 1420.6,3209.0 C1423.5,3207.1 1423.9,3206.7 1426.8,3206.9 C1429.7,3207.1 1431.8,3208.1 1435.1,3210.0 C1438.4,3211.9 1439.4,3214.6 1443.4,3216.3 C1447.4,3218.0 1451.2,3217.2 1454.9,3218.4 C1458.6,3219.6 1459.2,3219.6 1462.1,3222.5 C1465.0,3225.4 1466.5,3227.9 1469.4,3232.9 C1472.3,3237.9 1474.0,3241.2 1476.7,3247.4 C1479.4,3253.6 1480.4,3256.9 1482.9,3264.0 C1485.4,3271.1 1486.4,3276.5 1489.1,3282.7 C1491.8,3288.9 1494.2,3292.3 1496.4,3295.2 C1498.6,3298.1 1497.6,3293.9 1500.0,3297.0 C1502.4,3300.1 1504.8,3303.8 1508.5,3310.6 C1512.2,3317.4 1513.9,3326.2 1518.7,3331.1 C1523.5,3336.0 1527.9,3332.8 1532.3,3335.2 C1536.7,3337.6 1537.1,3336.7 1540.9,3343.0 C1544.7,3349.3 1546.7,3359.0 1551.1,3366.8 C1555.5,3374.6 1557.6,3376.0 1563.0,3382.1 C1568.4,3388.2 1571.8,3395.4 1578.3,3397.5 C1584.8,3399.6 1589.2,3392.7 1595.3,3392.4 C1601.4,3392.1 1603.5,3395.3 1609.0,3395.8 C1614.5,3396.3 1617.2,3394.1 1622.6,3395.1 C1628.0,3396.1 1630.8,3400.1 1636.2,3400.9 C1641.6,3401.7 1644.7,3399.0 1649.8,3399.2 C1654.9,3399.4 1656.6,3402.1 1661.7,3401.9 C1666.8,3401.7 1670.2,3398.2 1675.3,3398.1 C1680.4,3398.0 1681.8,3400.6 1687.3,3401.2 C1692.8,3401.8 1696.5,3397.9 1702.6,3400.9 C1708.7,3403.9 1712.8,3412.5 1717.9,3416.2 C1723.0,3419.9 1722.7,3419.4 1728.1,3419.6 C1733.5,3419.8 1737.6,3418.9 1745.1,3417.2 C1752.6,3415.5 1758.8,3411.4 1765.6,3411.1 C1772.4,3410.8 1772.4,3412.1 1779.2,3415.5 C1786.0,3418.9 1791.8,3426.9 1799.6,3428.1 C1807.4,3429.3 1811.2,3422.0 1818.4,3421.3 C1825.6,3420.6 1829.6,3424.4 1835.4,3424.7 C1841.2,3425.0 1841.5,3421.4 1847.3,3423.0 C1853.1,3424.6 1857.5,3432.5 1864.3,3432.5 C1871.1,3432.5 1875.2,3424.1 1881.3,3423.0 C1887.4,3421.9 1890.6,3426.1 1895.0,3427.1 C1899.4,3428.1 1901.8,3427.9 1903.5,3428.1" fill="none" stroke="#1010ff" stroke-width="5.5" stroke-linejoin="round" stroke-linecap="round"/>
<path d="M240.3,3716.3 C243.6,3717.0 249.6,3718.5 256.9,3719.7 C264.2,3720.9 268.9,3721.8 276.9,3722.3 C284.9,3722.8 290.5,3723.0 296.8,3722.3 C303.1,3721.6 302.4,3719.9 308.4,3719.0 C314.4,3718.1 321.0,3718.7 326.7,3718.0 C332.4,3717.3 332.0,3717.5 336.7,3715.7 C341.4,3713.9 344.0,3711.0 350.0,3709.0 C356.0,3707.0 360.0,3705.9 366.6,3705.7 C373.2,3705.5 376.6,3707.1 383.2,3708.0 C389.8,3708.9 394.8,3709.7 399.8,3710.4 C404.8,3711.1 403.5,3710.1 408.1,3711.4 C412.7,3712.7 416.0,3714.8 423.0,3717.0 C430.0,3719.2 436.0,3722.3 443.0,3722.3 C450.0,3722.3 452.9,3720.1 457.9,3717.0 C462.9,3713.9 464.9,3712.1 467.9,3707.0 C470.9,3701.9 471.2,3698.8 472.9,3691.4 C474.6,3684.0 474.5,3679.1 476.2,3669.8 C477.9,3660.5 479.3,3653.5 481.2,3644.9 C483.1,3636.3 484.3,3631.7 485.5,3626.6 C486.7,3621.5 486.5,3624.7 487.4,3619.3 C488.3,3613.9 488.9,3607.1 489.9,3599.4 C490.9,3591.7 491.4,3583.7 492.4,3580.7 C493.4,3577.7 493.9,3580.2 494.9,3584.4 C495.9,3588.6 496.2,3597.6 497.4,3601.8 C498.6,3606.0 498.9,3607.1 501.1,3605.6 C503.3,3604.1 505.6,3601.1 508.6,3594.4 C511.6,3587.7 513.6,3581.4 516.1,3571.9 C518.6,3562.4 519.4,3557.0 521.1,3547.0 C522.8,3537.0 523.6,3530.6 524.8,3522.1 C526.0,3513.6 526.3,3512.2 527.3,3504.7 C528.3,3497.2 528.8,3492.7 529.8,3484.7 C530.8,3476.7 531.3,3472.8 532.3,3464.8 C533.3,3456.8 533.3,3450.9 534.8,3444.9 C536.3,3438.9 537.7,3438.9 539.7,3434.9 C541.7,3430.9 542.9,3427.6 544.7,3424.9 C546.5,3422.2 547.0,3421.2 548.5,3421.2 C550.0,3421.2 550.2,3422.7 552.2,3424.9 C554.2,3427.1 556.4,3428.4 558.4,3432.4 C560.4,3436.4 560.4,3438.9 562.2,3444.9 C564.0,3450.9 565.2,3455.8 567.2,3462.3 C569.2,3468.8 569.9,3472.5 572.1,3477.2 C574.3,3481.9 576.2,3482.0 578.4,3486.0 C580.6,3490.0 581.6,3495.5 583.3,3497.2 C585.0,3498.9 585.8,3496.9 587.1,3494.7 C588.4,3492.5 588.6,3487.0 589.6,3486.0 C590.6,3485.0 591.1,3486.0 592.1,3489.7 C593.1,3493.4 593.6,3496.7 594.6,3504.7 C595.6,3512.7 595.9,3520.6 597.1,3529.6 C598.3,3538.6 599.3,3541.5 600.8,3549.5 C602.3,3557.5 602.8,3561.5 604.5,3569.5 C606.2,3577.5 607.5,3582.7 609.5,3589.4 C611.5,3596.1 612.4,3599.4 614.5,3603.1 C616.6,3606.8 617.8,3605.1 620.0,3608.0 C622.2,3610.9 622.6,3614.1 625.5,3617.7 C628.4,3621.3 631.7,3624.5 634.6,3625.8 C637.5,3627.1 636.8,3623.4 640.1,3624.3 C643.4,3625.2 647.8,3627.8 651.1,3630.5 C654.4,3633.2 653.9,3633.8 656.5,3637.8 C659.1,3641.8 660.6,3647.3 663.9,3650.6 C667.2,3653.9 668.6,3655.2 673.0,3654.3 C677.4,3653.4 680.7,3647.3 685.8,3646.2 C690.9,3645.1 693.1,3648.5 698.6,3648.8 C704.1,3649.1 708.8,3645.9 713.2,3647.7 C717.6,3649.5 717.2,3652.9 720.5,3657.9 C723.8,3662.9 725.6,3668.1 729.6,3672.5 C733.6,3676.9 735.5,3678.2 740.6,3679.9 C745.7,3681.6 751.2,3681.0 755.2,3681.0 C759.2,3681.0 757.4,3678.7 760.7,3679.9 C764.0,3681.1 767.7,3686.1 771.7,3687.2 C775.7,3688.3 776.8,3689.7 780.8,3685.3 C784.8,3680.9 787.8,3674.3 791.8,3665.2 C795.8,3656.1 797.2,3651.3 800.9,3639.6 C804.6,3627.9 806.7,3616.8 810.1,3606.8 C813.5,3596.8 814.5,3590.5 818.1,3589.6 C821.7,3588.7 824.4,3602.3 828.3,3602.4 C832.2,3602.5 833.5,3595.3 837.5,3590.3 C841.5,3585.3 844.0,3579.0 848.4,3577.5 C852.8,3576.0 856.1,3578.2 859.4,3583.0 C862.7,3587.8 862.3,3593.3 864.9,3601.3 C867.5,3609.3 868.9,3615.2 872.2,3623.2 C875.5,3631.2 876.2,3634.6 881.3,3641.5 C886.4,3648.4 890.1,3652.1 897.8,3657.9 C905.5,3663.7 911.7,3667.0 919.7,3670.7 C927.7,3674.4 931.4,3674.5 938.0,3676.2 C944.6,3677.9 946.0,3678.7 952.6,3679.1 C959.2,3679.5 963.6,3677.5 970.9,3678.0 C978.2,3678.5 983.3,3681.3 989.1,3681.7 C994.9,3682.1 995.7,3679.5 1000.1,3679.9 C1004.5,3680.3 1006.7,3682.6 1011.1,3683.5 C1015.5,3684.4 1016.9,3683.3 1022.0,3684.2 C1027.1,3685.1 1031.2,3686.9 1036.7,3687.9 C1042.2,3688.9 1046.9,3688.8 1049.5,3689.0" fill="none" stroke="#ff1010" stroke-width="5.5" stroke-linejoin="round" stroke-linecap="round"/>
<path d="M1090.5,3668.8 C1093.3,3669.4 1098.1,3670.5 1104.4,3671.6 C1110.7,3672.7 1115.6,3672.7 1121.9,3674.4 C1128.2,3676.1 1129.2,3676.7 1135.8,3680.3 C1142.4,3683.9 1147.3,3689.6 1155.0,3692.5 C1162.7,3695.4 1166.9,3693.8 1174.2,3695.0 C1181.5,3696.2 1184.6,3698.4 1191.6,3698.5 C1198.6,3698.6 1200.0,3696.8 1209.1,3695.3 C1218.2,3693.8 1226.5,3690.9 1237.0,3690.8 C1247.5,3690.7 1253.0,3694.1 1261.4,3695.0 C1269.8,3695.9 1270.4,3697.3 1278.8,3695.3 C1287.2,3693.3 1294.8,3687.5 1303.2,3684.9 C1311.6,3682.3 1314.4,3682.7 1320.7,3682.1 C1327.0,3681.5 1328.7,3684.5 1334.6,3682.1 C1340.5,3679.7 1343.3,3671.6 1350.3,3669.9 C1357.3,3668.2 1362.2,3674.3 1369.5,3673.4 C1376.8,3672.5 1380.3,3667.4 1386.9,3665.3 C1393.5,3663.2 1396.5,3665.1 1402.6,3662.9 C1408.7,3660.7 1412.5,3656.0 1417.3,3654.3 C1422.1,3652.6 1423.1,3653.9 1426.6,3654.6 C1430.1,3655.3 1429.3,3657.1 1434.6,3657.6 C1439.9,3658.1 1447.4,3657.7 1453.2,3656.9 C1459.0,3656.1 1460.1,3654.1 1463.8,3653.6 C1467.5,3653.1 1468.6,3652.0 1471.8,3654.3 C1475.0,3656.6 1476.5,3660.1 1479.7,3664.9 C1482.9,3669.7 1484.0,3673.9 1487.7,3678.2 C1491.4,3682.5 1492.7,3685.1 1498.3,3686.2 C1503.9,3687.3 1510.0,3683.6 1515.6,3683.5 C1521.2,3683.4 1521.9,3684.4 1526.2,3685.5 C1530.5,3686.6 1531.7,3688.7 1536.9,3688.8 C1542.1,3688.9 1546.1,3686.3 1552.3,3686.1 C1558.5,3685.9 1560.9,3687.4 1567.7,3687.6 C1574.5,3687.8 1578.7,3686.4 1586.1,3687.0 C1593.5,3687.6 1597.1,3690.9 1604.5,3690.7 C1611.9,3690.5 1616.8,3686.7 1623.0,3686.1 C1629.2,3685.5 1627.9,3685.6 1635.3,3687.6 C1642.7,3689.6 1651.3,3695.9 1659.9,3695.9 C1668.5,3695.9 1670.9,3688.0 1678.3,3687.6 C1685.7,3687.2 1689.3,3693.6 1696.7,3693.8 C1704.1,3694.0 1707.2,3688.0 1715.2,3688.6 C1723.2,3689.2 1728.7,3696.0 1736.7,3696.9 C1744.7,3697.8 1747.1,3692.5 1755.1,3692.9 C1763.1,3693.3 1768.3,3699.3 1776.6,3699.0 C1784.9,3698.7 1789.8,3691.7 1796.6,3691.6 C1803.4,3691.5 1803.9,3695.1 1810.4,3698.4 C1816.9,3701.7 1821.5,3707.6 1828.9,3708.2 C1836.3,3708.8 1838.7,3704.0 1847.3,3701.5 C1855.9,3699.0 1863.6,3695.9 1871.9,3695.9 C1880.2,3695.9 1882.7,3702.2 1888.8,3701.5 C1894.9,3700.8 1899.8,3694.1 1902.6,3692.2" fill="none" stroke="#ff1010" stroke-width="5.5" stroke-linejoin="round" stroke-linecap="round"/>
<path d="M240.3,4020.7 C243.0,4020.4 248.3,4019.5 253.6,4019.0 C258.9,4018.5 261.6,4017.5 266.9,4018.0 C272.2,4018.5 275.5,4019.6 280.2,4021.3 C284.9,4023.0 285.6,4024.6 290.2,4026.3 C294.8,4028.0 298.1,4028.9 303.4,4029.6 C308.7,4030.3 312.0,4030.1 316.7,4029.6 C321.4,4029.1 323.0,4026.9 326.7,4027.0 C330.4,4027.1 330.3,4030.8 335.0,4030.3 C339.7,4029.8 343.4,4027.0 350.0,4024.7 C356.6,4022.4 360.9,4019.7 368.2,4019.0 C375.5,4018.3 379.5,4019.7 386.5,4021.3 C393.5,4022.9 396.5,4025.0 403.1,4027.0 C409.7,4029.0 412.7,4029.4 419.7,4031.3 C426.7,4033.2 432.0,4035.6 438.0,4036.3 C444.0,4037.0 445.3,4035.4 449.6,4034.6 C453.9,4033.8 455.6,4035.3 459.6,4032.3 C463.6,4029.3 466.6,4025.5 469.6,4019.7 C472.6,4013.9 472.5,4011.7 474.5,4003.1 C476.5,3994.5 478.2,3985.3 479.5,3976.5 C480.8,3967.7 479.9,3966.7 481.2,3959.3 C482.5,3951.9 484.5,3947.4 486.2,3939.4 C487.9,3931.4 488.7,3927.4 489.9,3919.4 C491.1,3911.4 491.4,3902.5 492.4,3899.5 C493.4,3896.5 494.2,3900.5 494.9,3904.5 C495.6,3908.5 495.1,3914.4 496.1,3919.4 C497.1,3924.4 497.9,3929.1 499.9,3929.4 C501.9,3929.7 503.4,3924.7 506.1,3920.7 C508.8,3916.7 511.1,3915.1 513.6,3909.4 C516.1,3903.7 516.9,3899.5 518.6,3892.0 C520.3,3884.5 521.0,3880.1 522.3,3872.1 C523.6,3864.1 524.3,3860.1 525.3,3852.1 C526.3,3844.1 526.2,3841.2 527.3,3832.2 C528.4,3823.2 529.5,3816.3 531.0,3807.3 C532.5,3798.3 533.1,3795.3 534.8,3787.3 C536.5,3779.3 537.5,3773.1 539.7,3767.4 C541.9,3761.7 543.5,3759.7 546.0,3758.7 C548.5,3757.7 549.5,3759.9 552.2,3762.4 C554.9,3764.9 557.2,3766.4 559.7,3771.1 C562.2,3775.8 562.7,3780.1 564.7,3786.1 C566.7,3792.1 567.4,3795.6 569.6,3801.1 C571.8,3806.6 572.9,3809.3 575.9,3813.5 C578.9,3817.7 582.1,3821.5 584.6,3822.2 C587.1,3822.9 587.2,3820.9 588.3,3817.2 C589.4,3813.5 589.3,3805.5 590.1,3803.5 C590.9,3801.5 591.2,3803.6 592.1,3807.3 C593.0,3811.0 593.9,3814.7 594.6,3822.2 C595.3,3829.7 595.1,3836.2 595.8,3844.7 C596.5,3853.2 596.8,3856.1 598.3,3864.6 C599.8,3873.1 601.1,3878.5 603.3,3887.0 C605.5,3895.5 606.8,3899.8 609.5,3907.0 C612.2,3914.2 614.9,3919.8 617.0,3923.2 C619.1,3926.6 617.6,3921.6 620.0,3923.9 C622.4,3926.2 625.4,3933.3 629.1,3934.8 C632.8,3936.3 633.9,3931.3 638.3,3931.2 C642.7,3931.1 647.1,3931.2 651.1,3934.1 C655.1,3937.0 655.5,3940.7 658.4,3945.8 C661.3,3950.9 662.4,3956.4 665.7,3959.7 C669.0,3963.0 670.8,3963.5 674.8,3962.2 C678.8,3960.9 681.4,3954.2 685.8,3953.1 C690.2,3952.0 692.4,3955.9 696.8,3956.8 C701.2,3957.7 703.7,3955.7 707.7,3957.5 C711.7,3959.3 713.6,3961.5 716.9,3965.9 C720.2,3970.3 720.2,3973.6 724.2,3979.4 C728.2,3985.2 732.6,3990.7 737.0,3995.1 C741.4,3999.5 741.7,4000.6 746.1,4001.3 C750.5,4002.0 754.9,3998.2 758.9,3998.8 C762.9,3999.4 762.9,4002.3 766.2,4004.3 C769.5,4006.3 771.6,4009.4 775.3,4008.7 C779.0,4008.0 780.8,4005.9 784.5,4000.6 C788.2,3995.3 790.0,3991.1 793.6,3982.3 C797.2,3973.5 799.4,3967.8 802.7,3956.8 C806.0,3945.8 807.2,3935.2 810.1,3927.5 C813.0,3919.8 813.8,3917.8 817.4,3918.4 C821.0,3919.0 824.7,3930.0 828.3,3930.4 C831.9,3930.8 831.9,3925.3 835.6,3920.2 C839.3,3915.1 842.2,3906.7 846.6,3904.9 C851.0,3903.1 853.9,3906.9 857.6,3911.1 C861.3,3915.3 862.0,3918.0 864.9,3925.7 C867.8,3933.4 868.5,3941.0 872.2,3949.4 C875.9,3957.8 877.4,3960.4 883.2,3967.7 C889.0,3975.0 894.1,3980.5 901.4,3986.0 C908.7,3991.5 912.4,3992.2 919.7,3995.1 C927.0,3998.0 931.8,3998.9 938.0,4000.6 C944.2,4002.3 946.4,4003.5 950.8,4003.5 C955.2,4003.5 955.2,4000.8 959.9,4000.6 C964.6,4000.4 969.4,4001.5 974.5,4002.4 C979.6,4003.3 980.4,4004.6 985.5,4005.0 C990.6,4005.4 994.3,4003.7 1000.1,4004.3 C1005.9,4004.9 1008.8,4007.0 1014.7,4007.9 C1020.6,4008.8 1023.5,4007.8 1029.4,4008.7 C1035.3,4009.6 1039.6,4012.1 1044.0,4012.3 C1048.4,4012.5 1049.8,4010.3 1051.3,4009.8" fill="none" stroke="#0a0a0a" stroke-width="5.3" stroke-linejoin="round" stroke-linecap="round"/>
<path d="M1090.5,4007.3 C1092.9,4008.3 1097.5,4012.3 1102.7,4012.5 C1107.9,4012.7 1112.1,4008.3 1116.6,4008.4 C1121.1,4008.5 1121.1,4010.6 1125.3,4013.2 C1129.5,4015.8 1132.4,4020.6 1137.6,4021.3 C1142.8,4022.0 1147.0,4016.9 1151.5,4016.7 C1156.0,4016.5 1156.0,4018.2 1160.2,4020.2 C1164.4,4022.2 1166.8,4025.9 1172.4,4026.5 C1178.0,4027.1 1182.2,4024.4 1188.1,4023.0 C1194.0,4021.6 1195.8,4021.6 1202.1,4019.5 C1208.4,4017.4 1213.2,4016.7 1219.5,4012.5 C1225.8,4008.3 1227.2,4004.2 1233.5,3998.6 C1239.8,3993.0 1245.0,3989.6 1250.9,3984.6 C1256.8,3979.6 1257.5,3977.8 1263.1,3973.5 C1268.7,3969.2 1272.9,3968.8 1278.8,3963.0 C1284.7,3957.2 1287.2,3950.6 1292.8,3944.5 C1298.4,3938.4 1301.8,3937.9 1306.7,3932.3 C1311.6,3926.7 1313.4,3921.6 1317.2,3916.6 C1321.0,3911.6 1321.7,3909.1 1325.9,3907.2 C1330.1,3905.3 1333.2,3907.9 1338.1,3907.2 C1343.0,3906.5 1344.7,3904.6 1350.3,3903.7 C1355.9,3902.8 1360.8,3901.9 1366.0,3902.7 C1371.2,3903.5 1372.3,3904.2 1376.5,3907.9 C1380.7,3911.6 1383.1,3916.9 1386.9,3921.2 C1390.7,3925.5 1391.5,3927.4 1395.7,3929.5 C1399.9,3931.6 1403.0,3930.0 1407.9,3931.6 C1412.8,3933.2 1414.5,3933.6 1420.1,3937.6 C1425.7,3941.6 1429.9,3944.5 1435.8,3951.5 C1441.7,3958.5 1444.1,3966.1 1449.7,3972.4 C1455.3,3978.7 1458.1,3978.0 1463.7,3982.9 C1469.3,3987.8 1472.2,3992.3 1477.6,3996.8 C1483.0,4001.3 1484.9,4003.0 1490.7,4005.4 C1496.5,4007.8 1501.8,4006.8 1506.8,4008.9 C1511.8,4011.0 1510.7,4011.6 1515.7,4016.1 C1520.7,4020.6 1525.0,4029.6 1531.8,4031.4 C1538.6,4033.2 1542.5,4024.5 1549.6,4025.0 C1556.7,4025.5 1560.3,4033.5 1567.5,4033.9 C1574.7,4034.3 1577.5,4026.2 1585.4,4026.8 C1593.3,4027.4 1599.3,4035.7 1606.8,4036.8 C1614.3,4037.9 1615.8,4034.8 1622.9,4032.1 C1630.0,4029.4 1634.7,4023.3 1642.5,4023.2 C1650.3,4023.1 1654.2,4030.9 1662.1,4031.4 C1670.0,4031.9 1673.9,4025.9 1681.8,4025.7 C1689.7,4025.5 1692.8,4030.5 1701.4,4030.4 C1710.0,4030.3 1716.0,4024.5 1724.6,4025.0 C1733.2,4025.5 1737.9,4031.8 1744.3,4032.9 C1750.7,4034.0 1750.4,4029.1 1756.8,4030.4 C1763.2,4031.7 1768.5,4040.0 1776.4,4039.3 C1784.3,4038.6 1788.2,4027.5 1796.1,4026.8 C1804.0,4026.1 1807.8,4035.7 1815.7,4035.7 C1823.6,4035.7 1826.1,4028.9 1835.4,4026.8 C1844.7,4024.7 1852.8,4024.3 1862.1,4025.0 C1871.4,4025.7 1873.9,4029.3 1881.8,4030.4 C1889.7,4031.5 1897.5,4030.4 1901.4,4030.4" fill="none" stroke="#0a0a0a" stroke-width="5.3" stroke-linejoin="round" stroke-linecap="round"/>
<line x1="1431.0" y1="3153.0" x2="1431.0" y2="3330.0" stroke="#000" stroke-width="8" stroke-dasharray="31 25"/>
<line x1="1466.9" y1="3577.2" x2="1466.9" y2="3753.3" stroke="#000" stroke-width="8" stroke-dasharray="31 25"/>
<line x1="1350.8" y1="3840.5" x2="1350.8" y2="4017.0" stroke="#000" stroke-width="8" stroke-dasharray="31 25"/>
</g></svg>
</body></html>
